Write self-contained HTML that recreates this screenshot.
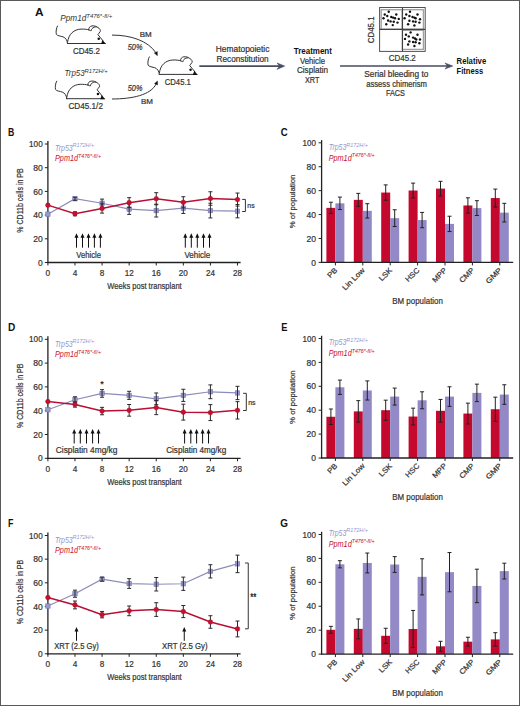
<!DOCTYPE html>
<html><head><meta charset="utf-8"><style>
html,body{margin:0;padding:0;background:#fff;}
svg{display:block;}
text{font-family:"Liberation Sans", sans-serif;}
</style></head><body>
<svg width="520" height="706" viewBox="0 0 520 706">
<rect x="0" y="0" width="520" height="706" fill="#fff"/>
<g transform="translate(0,0)" fill="none" stroke="#333" stroke-width="1.0" stroke-linecap="round" stroke-linejoin="round"><path d="M57.5,26 C56.2,28 55.8,32 56.3,34.2 C57,35.8 61,36.2 63,36.8 C65.5,37.8 67.3,40 67.5,43.5"/><path d="M67.5,43.5 L105.2,43.5"/><path d="M67.6,42 C68.5,34 74,29.4 81,29.1 C84,29 87,29.3 88.7,29.8"/><path d="M88.7,29.8 C88.6,27.6 90,26.2 92,25.9 C94.5,25.6 96.5,26.4 98,27.6 C99.8,28.6 100.8,30 100.2,31.6 C99.6,32.8 98.2,33.8 97.9,34.6 C99.5,36.8 101.5,38.6 103,40.8"/><path d="M88.7,29.8 C89.6,30.4 90.6,30.8 91.3,30.6 C91.2,29.2 92.5,27.8 94.2,27.2 C95,27 95.8,26.9 96.4,26.9"/></g><g transform="translate(0,0)" fill="#111" stroke="none"><circle cx="98.75" cy="38.8" r="1.25"/><path d="M102.5,39.9 L105.9,44.0 L101.0,44.0 Z"/></g>
<g transform="translate(-0.8,55.2)" fill="none" stroke="#333" stroke-width="1.0" stroke-linecap="round" stroke-linejoin="round"><path d="M57.5,26 C56.2,28 55.8,32 56.3,34.2 C57,35.8 61,36.2 63,36.8 C65.5,37.8 67.3,40 67.5,43.5"/><path d="M67.5,43.5 L105.2,43.5"/><path d="M67.6,42 C68.5,34 74,29.4 81,29.1 C84,29 87,29.3 88.7,29.8"/><path d="M88.7,29.8 C88.6,27.6 90,26.2 92,25.9 C94.5,25.6 96.5,26.4 98,27.6 C99.8,28.6 100.8,30 100.2,31.6 C99.6,32.8 98.2,33.8 97.9,34.6 C99.5,36.8 101.5,38.6 103,40.8"/><path d="M88.7,29.8 C89.6,30.4 90.6,30.8 91.3,30.6 C91.2,29.2 92.5,27.8 94.2,27.2 C95,27 95.8,26.9 96.4,26.9"/></g><g transform="translate(-0.8,55.2)" fill="#111" stroke="none"><circle cx="98.75" cy="38.8" r="1.25"/><path d="M102.5,39.9 L105.9,44.0 L101.0,44.0 Z"/></g>
<g transform="translate(91.8,30.9)" fill="none" stroke="#333" stroke-width="1.0" stroke-linecap="round" stroke-linejoin="round"><path d="M57.5,26 C56.2,28 55.8,32 56.3,34.2 C57,35.8 61,36.2 63,36.8 C65.5,37.8 67.3,40 67.5,43.5"/><path d="M67.5,43.5 L105.2,43.5"/><path d="M67.6,42 C68.5,34 74,29.4 81,29.1 C84,29 87,29.3 88.7,29.8"/><path d="M88.7,29.8 C88.6,27.6 90,26.2 92,25.9 C94.5,25.6 96.5,26.4 98,27.6 C99.8,28.6 100.8,30 100.2,31.6 C99.6,32.8 98.2,33.8 97.9,34.6 C99.5,36.8 101.5,38.6 103,40.8"/><path d="M88.7,29.8 C89.6,30.4 90.6,30.8 91.3,30.6 C91.2,29.2 92.5,27.8 94.2,27.2 C95,27 95.8,26.9 96.4,26.9"/></g><g transform="translate(91.8,30.9)" fill="#111" stroke="none"><circle cx="98.75" cy="38.8" r="1.25"/><path d="M102.5,39.9 L105.9,44.0 L101.0,44.0 Z"/></g>
<text x="35.00" y="16.40" font-size="10" text-anchor="start" fill="#111" stroke="#111" stroke-width="0.0" font-weight="bold" font-style="normal" textLength="8.6" lengthAdjust="spacingAndGlyphs" >A</text>
<text x="60.3" y="21.1" font-size="8.2" font-style="italic" fill="#333"><tspan textLength="26" lengthAdjust="spacingAndGlyphs">Ppm1d</tspan><tspan font-size="5.2" dy="-3.6" textLength="26" lengthAdjust="spacingAndGlyphs">T476*-fl/+</tspan></text>
<text x="64.6" y="76.4" font-size="8.2" font-style="italic" fill="#333"><tspan textLength="20" lengthAdjust="spacingAndGlyphs">Trp53</tspan><tspan font-size="5.2" dy="-3.6" textLength="23" lengthAdjust="spacingAndGlyphs">R172H/+</tspan></text>
<text x="86.40" y="53.60" font-size="8.8" text-anchor="middle" fill="#333" stroke="#333" stroke-width="0.22" font-weight="normal" font-style="normal" textLength="27" lengthAdjust="spacingAndGlyphs" >CD45.2</text>
<text x="85.70" y="108.60" font-size="8.8" text-anchor="middle" fill="#333" stroke="#333" stroke-width="0.22" font-weight="normal" font-style="normal" textLength="34.5" lengthAdjust="spacingAndGlyphs" >CD45.1/2</text>
<text x="177.80" y="84.80" font-size="8.8" text-anchor="middle" fill="#333" stroke="#333" stroke-width="0.22" font-weight="normal" font-style="normal" textLength="26" lengthAdjust="spacingAndGlyphs" >CD45.1</text>
<path d="M112,35.1 C131,35 148,41 155.8,52.6" fill="none" stroke="#333" stroke-width="1"/>
<path d="M157.4,55.7 L154.3,53.1 L157.3,51.6 Z" fill="#111" stroke="#111" stroke-width="0.4" stroke-linejoin="round"/>
<path d="M112,99 C132,99 151,95 156.2,83.8" fill="none" stroke="#333" stroke-width="1"/>
<path d="M157.5,81.0 L157.6,84.9 L154.5,83.5 Z" fill="#111" stroke="#111" stroke-width="0.4" stroke-linejoin="round"/>
<text x="145.70" y="37.10" font-size="7.8" text-anchor="middle" fill="#333" stroke="#333" stroke-width="0.22" font-weight="normal" font-style="normal" textLength="12" lengthAdjust="spacingAndGlyphs" >BM</text>
<text x="135.10" y="49.50" font-size="8.7" text-anchor="middle" fill="#333" stroke="#333" stroke-width="0.22" font-weight="normal" font-style="italic" textLength="14.6" lengthAdjust="spacingAndGlyphs" >50%</text>
<text x="135.10" y="90.80" font-size="8.7" text-anchor="middle" fill="#333" stroke="#333" stroke-width="0.22" font-weight="normal" font-style="italic" textLength="14.6" lengthAdjust="spacingAndGlyphs" >50%</text>
<text x="146.90" y="103.70" font-size="7.8" text-anchor="middle" fill="#333" stroke="#333" stroke-width="0.22" font-weight="normal" font-style="normal" textLength="12" lengthAdjust="spacingAndGlyphs" >BM</text>
<line x1="199.30" y1="66.10" x2="281.00" y2="66.10" stroke="#454d60" stroke-width="1.6" />
<path d="M284.8,66.1 L277.0,62.9 L279.4,66.1 L277.0,69.4 Z" fill="#454d60" stroke="#454d60" stroke-width="0.5" stroke-linejoin="round"/>
<text x="242.60" y="52.40" font-size="8.7" text-anchor="middle" fill="#333" stroke="#333" stroke-width="0.22" font-weight="normal" font-style="normal" textLength="53.6" lengthAdjust="spacingAndGlyphs" >Hematopoietic</text>
<text x="242.60" y="61.80" font-size="8.7" text-anchor="middle" fill="#333" stroke="#333" stroke-width="0.22" font-weight="normal" font-style="normal" textLength="52" lengthAdjust="spacingAndGlyphs" >Reconstitution</text>
<text x="312.80" y="54.40" font-size="8.7" text-anchor="middle" fill="#111" stroke="#111" stroke-width="0.0" font-weight="bold" font-style="normal" textLength="38.2" lengthAdjust="spacingAndGlyphs" >Treatment</text>
<text x="312.50" y="64.00" font-size="8.7" text-anchor="middle" fill="#333" stroke="#333" stroke-width="0.22" font-weight="normal" font-style="normal" textLength="25" lengthAdjust="spacingAndGlyphs" >Vehicle</text>
<text x="312.50" y="73.10" font-size="8.7" text-anchor="middle" fill="#333" stroke="#333" stroke-width="0.22" font-weight="normal" font-style="normal" textLength="31.2" lengthAdjust="spacingAndGlyphs" >Cisplatin</text>
<text x="312.20" y="83.10" font-size="8.7" text-anchor="middle" fill="#333" stroke="#333" stroke-width="0.22" font-weight="normal" font-style="normal" textLength="14.4" lengthAdjust="spacingAndGlyphs" >XRT</text>
<line x1="340.00" y1="66.00" x2="449.00" y2="66.00" stroke="#454d60" stroke-width="1.6" />
<path d="M452.9,66.0 L444.9,62.9 L447.4,66.0 L444.9,69.1 Z" fill="#454d60" stroke="#454d60" stroke-width="0.5" stroke-linejoin="round"/>
<text x="396.30" y="76.50" font-size="8.7" text-anchor="middle" fill="#333" stroke="#333" stroke-width="0.22" font-weight="normal" font-style="normal" textLength="64" lengthAdjust="spacingAndGlyphs" >Serial bleeding to</text>
<text x="396.60" y="87.10" font-size="8.7" text-anchor="middle" fill="#333" stroke="#333" stroke-width="0.22" font-weight="normal" font-style="normal" textLength="60.8" lengthAdjust="spacingAndGlyphs" >assess chimerism</text>
<text x="395.40" y="96.00" font-size="8.9" text-anchor="middle" fill="#333" stroke="#333" stroke-width="0.22" font-weight="normal" font-style="normal" textLength="19" lengthAdjust="spacingAndGlyphs" >FACS</text>
<text x="456.60" y="63.80" font-size="8.7" text-anchor="start" fill="#111" stroke="#111" stroke-width="0.0" font-weight="bold" font-style="normal" textLength="29.6" lengthAdjust="spacingAndGlyphs" >Relative</text>
<text x="456.60" y="73.50" font-size="8.7" text-anchor="start" fill="#111" stroke="#111" stroke-width="0.0" font-weight="bold" font-style="normal" textLength="26.5" lengthAdjust="spacingAndGlyphs" >Fitness</text>
<rect x="381.2" y="9.7" width="21.1" height="19.6" fill="none" stroke="#a0a0a0" stroke-width="1.3"/>
<rect x="402.3" y="9.7" width="21.1" height="19.6" fill="none" stroke="#a0a0a0" stroke-width="1.3"/>
<rect x="402.3" y="30.3" width="21.1" height="19.1" fill="none" stroke="#a0a0a0" stroke-width="1.3"/>
<rect x="379.6" y="7.5" width="45.6" height="43.9" fill="none" stroke="#505050" stroke-width="1"/>
<line x1="402.50" y1="7.50" x2="402.50" y2="51.40" stroke="#404040" stroke-width="1.1" />
<line x1="379.60" y1="29.40" x2="425.20" y2="29.40" stroke="#404040" stroke-width="1.1" />
<g fill="#111"><circle cx="388.75" cy="11.75" r="1.2"/><circle cx="384.75" cy="14.5" r="1.2"/><circle cx="387.25" cy="16" r="1.2"/><circle cx="396.25" cy="14.5" r="1.2"/><circle cx="383.5" cy="18.25" r="1.2"/><circle cx="391.25" cy="17" r="1.2"/><circle cx="393.1" cy="17.6" r="1.2"/><circle cx="395" cy="18.25" r="1.2"/><circle cx="398.75" cy="18.9" r="1.2"/><circle cx="388.1" cy="20.5" r="1.2"/><circle cx="390.6" cy="21.4" r="1.2"/><circle cx="393.75" cy="21.75" r="1.2"/><circle cx="397.5" cy="22.6" r="1.2"/><circle cx="386.25" cy="24.25" r="1.2"/><circle cx="392.75" cy="25.1" r="1.2"/><circle cx="410" cy="11.75" r="1.2"/><circle cx="406.25" cy="14.5" r="1.2"/><circle cx="409.4" cy="16" r="1.2"/><circle cx="417.5" cy="14.5" r="1.2"/><circle cx="404.6" cy="18.25" r="1.2"/><circle cx="412.5" cy="17" r="1.2"/><circle cx="414.4" cy="17.6" r="1.2"/><circle cx="415.6" cy="18.25" r="1.2"/><circle cx="420" cy="19.25" r="1.2"/><circle cx="409.4" cy="20.75" r="1.2"/><circle cx="413.1" cy="21.4" r="1.2"/><circle cx="415.6" cy="21.75" r="1.2"/><circle cx="419.4" cy="22.6" r="1.2"/><circle cx="408.1" cy="24.25" r="1.2"/><circle cx="414.4" cy="25.5" r="1.2"/><circle cx="410.6" cy="32.4" r="1.2"/><circle cx="406" cy="34.75" r="1.2"/><circle cx="408.75" cy="36.4" r="1.2"/><circle cx="417.5" cy="34.75" r="1.2"/><circle cx="405" cy="38.9" r="1.2"/><circle cx="413.1" cy="37.6" r="1.2"/><circle cx="415" cy="38.5" r="1.2"/><circle cx="416.25" cy="39.5" r="1.2"/><circle cx="420" cy="39.5" r="1.2"/><circle cx="409.4" cy="41.4" r="1.2"/><circle cx="413.1" cy="42" r="1.2"/><circle cx="415.6" cy="42.25" r="1.2"/><circle cx="419.4" cy="43.25" r="1.2"/><circle cx="408.1" cy="44.5" r="1.2"/><circle cx="414.4" cy="46" r="1.2"/></g>
<text x="374.40" y="29.80" font-size="8.7" text-anchor="middle" fill="#333" stroke="#333" stroke-width="0.22" font-weight="normal" font-style="normal" textLength="26.8" lengthAdjust="spacingAndGlyphs" transform="rotate(-90 374.4 29.8)">CD45.1</text>
<text x="402.30" y="61.20" font-size="8.7" text-anchor="middle" fill="#333" stroke="#333" stroke-width="0.22" font-weight="normal" font-style="normal" textLength="27" lengthAdjust="spacingAndGlyphs" >CD45.2</text>
<text x="7.90" y="135.50" font-size="10" text-anchor="start" fill="#111" stroke="#111" stroke-width="0.0" font-weight="bold" font-style="normal" textLength="6.3" lengthAdjust="spacingAndGlyphs" >B</text>
<line x1="47.90" y1="141.00" x2="47.90" y2="263.10" stroke="#222" stroke-width="1.3" />
<line x1="47.30" y1="262.50" x2="240.60" y2="262.50" stroke="#222" stroke-width="1.3" />
<line x1="44.80" y1="262.50" x2="47.90" y2="262.50" stroke="#222" stroke-width="1" />
<text x="42.70" y="265.60" font-size="8.8" text-anchor="end" fill="#333" stroke="#333" stroke-width="0.22" font-weight="normal" font-style="normal" textLength="4.7" lengthAdjust="spacingAndGlyphs" >0</text>
<line x1="44.80" y1="238.80" x2="47.90" y2="238.80" stroke="#222" stroke-width="1" />
<text x="42.70" y="241.90" font-size="8.8" text-anchor="end" fill="#333" stroke="#333" stroke-width="0.22" font-weight="normal" font-style="normal" textLength="9.5" lengthAdjust="spacingAndGlyphs" >20</text>
<line x1="44.80" y1="215.10" x2="47.90" y2="215.10" stroke="#222" stroke-width="1" />
<text x="42.70" y="218.20" font-size="8.8" text-anchor="end" fill="#333" stroke="#333" stroke-width="0.22" font-weight="normal" font-style="normal" textLength="9.5" lengthAdjust="spacingAndGlyphs" >40</text>
<line x1="44.80" y1="191.40" x2="47.90" y2="191.40" stroke="#222" stroke-width="1" />
<text x="42.70" y="194.50" font-size="8.8" text-anchor="end" fill="#333" stroke="#333" stroke-width="0.22" font-weight="normal" font-style="normal" textLength="9.5" lengthAdjust="spacingAndGlyphs" >60</text>
<line x1="44.80" y1="167.70" x2="47.90" y2="167.70" stroke="#222" stroke-width="1" />
<text x="42.70" y="170.80" font-size="8.8" text-anchor="end" fill="#333" stroke="#333" stroke-width="0.22" font-weight="normal" font-style="normal" textLength="9.5" lengthAdjust="spacingAndGlyphs" >80</text>
<line x1="44.80" y1="144.00" x2="47.90" y2="144.00" stroke="#222" stroke-width="1" />
<text x="42.70" y="147.10" font-size="8.8" text-anchor="end" fill="#333" stroke="#333" stroke-width="0.22" font-weight="normal" font-style="normal" textLength="13.6" lengthAdjust="spacingAndGlyphs" >100</text>
<line x1="47.90" y1="262.50" x2="47.90" y2="265.50" stroke="#222" stroke-width="1" />
<text x="47.90" y="275.80" font-size="8.7" text-anchor="middle" fill="#333" stroke="#333" stroke-width="0.22" font-weight="normal" font-style="normal" textLength="4.6" lengthAdjust="spacingAndGlyphs" >0</text>
<line x1="74.98" y1="262.50" x2="74.98" y2="265.50" stroke="#222" stroke-width="1" />
<text x="74.98" y="275.80" font-size="8.7" text-anchor="middle" fill="#333" stroke="#333" stroke-width="0.22" font-weight="normal" font-style="normal" textLength="4.6" lengthAdjust="spacingAndGlyphs" >4</text>
<line x1="102.07" y1="262.50" x2="102.07" y2="265.50" stroke="#222" stroke-width="1" />
<text x="102.07" y="275.80" font-size="8.7" text-anchor="middle" fill="#333" stroke="#333" stroke-width="0.22" font-weight="normal" font-style="normal" textLength="4.6" lengthAdjust="spacingAndGlyphs" >8</text>
<line x1="129.15" y1="262.50" x2="129.15" y2="265.50" stroke="#222" stroke-width="1" />
<text x="129.15" y="275.80" font-size="8.7" text-anchor="middle" fill="#333" stroke="#333" stroke-width="0.22" font-weight="normal" font-style="normal" textLength="9.0" lengthAdjust="spacingAndGlyphs" >12</text>
<line x1="156.24" y1="262.50" x2="156.24" y2="265.50" stroke="#222" stroke-width="1" />
<text x="156.24" y="275.80" font-size="8.7" text-anchor="middle" fill="#333" stroke="#333" stroke-width="0.22" font-weight="normal" font-style="normal" textLength="9.0" lengthAdjust="spacingAndGlyphs" >16</text>
<line x1="183.32" y1="262.50" x2="183.32" y2="265.50" stroke="#222" stroke-width="1" />
<text x="183.32" y="275.80" font-size="8.7" text-anchor="middle" fill="#333" stroke="#333" stroke-width="0.22" font-weight="normal" font-style="normal" textLength="9.0" lengthAdjust="spacingAndGlyphs" >20</text>
<line x1="210.40" y1="262.50" x2="210.40" y2="265.50" stroke="#222" stroke-width="1" />
<text x="210.40" y="275.80" font-size="8.7" text-anchor="middle" fill="#333" stroke="#333" stroke-width="0.22" font-weight="normal" font-style="normal" textLength="9.0" lengthAdjust="spacingAndGlyphs" >24</text>
<line x1="237.49" y1="262.50" x2="237.49" y2="265.50" stroke="#222" stroke-width="1" />
<text x="237.49" y="275.80" font-size="8.7" text-anchor="middle" fill="#333" stroke="#333" stroke-width="0.22" font-weight="normal" font-style="normal" textLength="9.0" lengthAdjust="spacingAndGlyphs" >28</text>
<text x="144.50" y="288.70" font-size="9.4" text-anchor="middle" fill="#333" stroke="#333" stroke-width="0.22" font-weight="normal" font-style="normal" textLength="74.4" lengthAdjust="spacingAndGlyphs" >Weeks post transplant</text>
<text x="22.70" y="200.50" font-size="8.9" text-anchor="middle" fill="#333" stroke="#333" stroke-width="0.22" font-weight="normal" font-style="normal" textLength="64.5" lengthAdjust="spacingAndGlyphs" transform="rotate(-90 22.7 200.50)">% CD11b cells in PB</text>
<text x="55.0" y="150.9" font-size="8.3" font-style="italic" fill="#9696cc"><tspan textLength="17.6" lengthAdjust="spacingAndGlyphs">Trp53</tspan><tspan font-size="5.6" dy="-3.5" textLength="21.5" lengthAdjust="spacingAndGlyphs">R172H/+</tspan></text>
<text x="55.0" y="160.9" font-size="8.3" font-style="italic" fill="#c8102e"><tspan textLength="23" lengthAdjust="spacingAndGlyphs">Ppm1d</tspan><tspan font-size="5.6" dy="-3.4" textLength="23" lengthAdjust="spacingAndGlyphs">T476*-fl/+</tspan></text>
<line x1="76.50" y1="236.20" x2="76.50" y2="247.70" stroke="#111" stroke-width="1" />
<path d="M74.50,237.80 L76.50,233.20 L78.50,237.80 Z" fill="#111"/>
<line x1="82.50" y1="236.20" x2="82.50" y2="247.70" stroke="#111" stroke-width="1" />
<path d="M80.50,237.80 L82.50,233.20 L84.50,237.80 Z" fill="#111"/>
<line x1="88.50" y1="236.20" x2="88.50" y2="247.70" stroke="#111" stroke-width="1" />
<path d="M86.50,237.80 L88.50,233.20 L90.50,237.80 Z" fill="#111"/>
<line x1="94.40" y1="236.20" x2="94.40" y2="247.70" stroke="#111" stroke-width="1" />
<path d="M92.40,237.80 L94.40,233.20 L96.40,237.80 Z" fill="#111"/>
<line x1="100.40" y1="236.20" x2="100.40" y2="247.70" stroke="#111" stroke-width="1" />
<path d="M98.40,237.80 L100.40,233.20 L102.40,237.80 Z" fill="#111"/>
<text x="88.60" y="257.50" font-size="8.5" text-anchor="middle" fill="#333" stroke="#333" stroke-width="0.22" font-weight="normal" font-style="normal" textLength="24.799999999999997" lengthAdjust="spacingAndGlyphs" >Vehicle</text>
<line x1="185.30" y1="236.20" x2="185.30" y2="247.70" stroke="#111" stroke-width="1" />
<path d="M183.30,237.80 L185.30,233.20 L187.30,237.80 Z" fill="#111"/>
<line x1="191.30" y1="236.20" x2="191.30" y2="247.70" stroke="#111" stroke-width="1" />
<path d="M189.30,237.80 L191.30,233.20 L193.30,237.80 Z" fill="#111"/>
<line x1="197.30" y1="236.20" x2="197.30" y2="247.70" stroke="#111" stroke-width="1" />
<path d="M195.30,237.80 L197.30,233.20 L199.30,237.80 Z" fill="#111"/>
<line x1="203.50" y1="236.20" x2="203.50" y2="247.70" stroke="#111" stroke-width="1" />
<path d="M201.50,237.80 L203.50,233.20 L205.50,237.80 Z" fill="#111"/>
<line x1="209.50" y1="236.20" x2="209.50" y2="247.70" stroke="#111" stroke-width="1" />
<path d="M207.50,237.80 L209.50,233.20 L211.50,237.80 Z" fill="#111"/>
<text x="197.30" y="257.50" font-size="8.5" text-anchor="middle" fill="#333" stroke="#333" stroke-width="0.22" font-weight="normal" font-style="normal" textLength="25.799999999999983" lengthAdjust="spacingAndGlyphs" >Vehicle</text>
<path d="M242.20,199.40 L245.40,199.40 L245.40,211.50 L242.20,211.50" fill="none" stroke="#333" stroke-width="1"/>
<text x="247.30" y="208.15" font-size="7.6" text-anchor="start" fill="#333" stroke="#333" stroke-width="0.22" font-weight="normal" font-style="normal" textLength="7.3" lengthAdjust="spacingAndGlyphs" >ns</text>
<polyline points="47.90,214.15 74.98,198.75 102.07,203.25 129.15,209.06 156.24,210.60 183.32,208.11 210.40,210.60 237.49,211.19" fill="none" stroke="#8c8cb8" stroke-width="1.2"/>
<polyline points="47.90,205.15 74.98,213.80 102.07,208.46 129.15,202.66 156.24,198.75 183.32,202.30 210.40,198.51 237.49,199.58" fill="none" stroke="#b81034" stroke-width="1.5"/>
<rect x="45.70" y="211.95" width="4.4" height="4.4" fill="#9898cc" stroke="#7676b0" stroke-width="0.6"/>
<rect x="72.78" y="196.55" width="4.4" height="4.4" fill="#9898cc" stroke="#7676b0" stroke-width="0.6"/>
<rect x="99.87" y="201.05" width="4.4" height="4.4" fill="#9898cc" stroke="#7676b0" stroke-width="0.6"/>
<rect x="126.95" y="206.86" width="4.4" height="4.4" fill="#9898cc" stroke="#7676b0" stroke-width="0.6"/>
<rect x="154.04" y="208.40" width="4.4" height="4.4" fill="#9898cc" stroke="#7676b0" stroke-width="0.6"/>
<rect x="181.12" y="205.91" width="4.4" height="4.4" fill="#9898cc" stroke="#7676b0" stroke-width="0.6"/>
<rect x="208.20" y="208.40" width="4.4" height="4.4" fill="#9898cc" stroke="#7676b0" stroke-width="0.6"/>
<rect x="235.29" y="208.99" width="4.4" height="4.4" fill="#9898cc" stroke="#7676b0" stroke-width="0.6"/>
<line x1="74.98" y1="197.21" x2="74.98" y2="200.29" stroke="#2a2a2a" stroke-width="1.0" />
<line x1="72.98" y1="197.21" x2="76.98" y2="197.21" stroke="#2a2a2a" stroke-width="1.0" />
<line x1="72.98" y1="200.29" x2="76.98" y2="200.29" stroke="#2a2a2a" stroke-width="1.0" />
<line x1="102.07" y1="199.10" x2="102.07" y2="207.40" stroke="#2a2a2a" stroke-width="1.0" />
<line x1="100.07" y1="199.10" x2="104.07" y2="199.10" stroke="#2a2a2a" stroke-width="1.0" />
<line x1="100.07" y1="207.40" x2="104.07" y2="207.40" stroke="#2a2a2a" stroke-width="1.0" />
<line x1="129.15" y1="203.72" x2="129.15" y2="214.39" stroke="#2a2a2a" stroke-width="1.0" />
<line x1="127.15" y1="203.72" x2="131.15" y2="203.72" stroke="#2a2a2a" stroke-width="1.0" />
<line x1="127.15" y1="214.39" x2="131.15" y2="214.39" stroke="#2a2a2a" stroke-width="1.0" />
<line x1="156.24" y1="204.20" x2="156.24" y2="217.00" stroke="#2a2a2a" stroke-width="1.0" />
<line x1="154.24" y1="204.20" x2="158.24" y2="204.20" stroke="#2a2a2a" stroke-width="1.0" />
<line x1="154.24" y1="217.00" x2="158.24" y2="217.00" stroke="#2a2a2a" stroke-width="1.0" />
<line x1="183.32" y1="202.78" x2="183.32" y2="213.44" stroke="#2a2a2a" stroke-width="1.0" />
<line x1="181.32" y1="202.78" x2="185.32" y2="202.78" stroke="#2a2a2a" stroke-width="1.0" />
<line x1="181.32" y1="213.44" x2="185.32" y2="213.44" stroke="#2a2a2a" stroke-width="1.0" />
<line x1="210.40" y1="203.25" x2="210.40" y2="217.94" stroke="#2a2a2a" stroke-width="1.0" />
<line x1="208.40" y1="203.25" x2="212.40" y2="203.25" stroke="#2a2a2a" stroke-width="1.0" />
<line x1="208.40" y1="217.94" x2="212.40" y2="217.94" stroke="#2a2a2a" stroke-width="1.0" />
<line x1="237.49" y1="204.55" x2="237.49" y2="217.83" stroke="#2a2a2a" stroke-width="1.0" />
<line x1="235.49" y1="204.55" x2="239.49" y2="204.55" stroke="#2a2a2a" stroke-width="1.0" />
<line x1="235.49" y1="217.83" x2="239.49" y2="217.83" stroke="#2a2a2a" stroke-width="1.0" />
<line x1="74.98" y1="211.78" x2="74.98" y2="215.81" stroke="#2a2a2a" stroke-width="1.0" />
<line x1="72.98" y1="211.78" x2="76.98" y2="211.78" stroke="#2a2a2a" stroke-width="1.0" />
<line x1="72.98" y1="215.81" x2="76.98" y2="215.81" stroke="#2a2a2a" stroke-width="1.0" />
<line x1="102.07" y1="203.84" x2="102.07" y2="213.09" stroke="#2a2a2a" stroke-width="1.0" />
<line x1="100.07" y1="203.84" x2="104.07" y2="203.84" stroke="#2a2a2a" stroke-width="1.0" />
<line x1="100.07" y1="213.09" x2="104.07" y2="213.09" stroke="#2a2a2a" stroke-width="1.0" />
<line x1="129.15" y1="197.68" x2="129.15" y2="207.63" stroke="#2a2a2a" stroke-width="1.0" />
<line x1="127.15" y1="197.68" x2="131.15" y2="197.68" stroke="#2a2a2a" stroke-width="1.0" />
<line x1="127.15" y1="207.63" x2="131.15" y2="207.63" stroke="#2a2a2a" stroke-width="1.0" />
<line x1="156.24" y1="192.70" x2="156.24" y2="204.79" stroke="#2a2a2a" stroke-width="1.0" />
<line x1="154.24" y1="192.70" x2="158.24" y2="192.70" stroke="#2a2a2a" stroke-width="1.0" />
<line x1="154.24" y1="204.79" x2="158.24" y2="204.79" stroke="#2a2a2a" stroke-width="1.0" />
<line x1="183.32" y1="196.73" x2="183.32" y2="207.87" stroke="#2a2a2a" stroke-width="1.0" />
<line x1="181.32" y1="196.73" x2="185.32" y2="196.73" stroke="#2a2a2a" stroke-width="1.0" />
<line x1="181.32" y1="207.87" x2="185.32" y2="207.87" stroke="#2a2a2a" stroke-width="1.0" />
<line x1="210.40" y1="191.76" x2="210.40" y2="205.26" stroke="#2a2a2a" stroke-width="1.0" />
<line x1="208.40" y1="191.76" x2="212.40" y2="191.76" stroke="#2a2a2a" stroke-width="1.0" />
<line x1="208.40" y1="205.26" x2="212.40" y2="205.26" stroke="#2a2a2a" stroke-width="1.0" />
<line x1="237.49" y1="193.06" x2="237.49" y2="206.09" stroke="#2a2a2a" stroke-width="1.0" />
<line x1="235.49" y1="193.06" x2="239.49" y2="193.06" stroke="#2a2a2a" stroke-width="1.0" />
<line x1="235.49" y1="206.09" x2="239.49" y2="206.09" stroke="#2a2a2a" stroke-width="1.0" />
<circle cx="47.90" cy="205.15" r="2.35" fill="#c8102e" stroke="#a00a25" stroke-width="0.4"/>
<circle cx="74.98" cy="213.80" r="2.35" fill="#c8102e" stroke="#a00a25" stroke-width="0.4"/>
<circle cx="102.07" cy="208.46" r="2.35" fill="#c8102e" stroke="#a00a25" stroke-width="0.4"/>
<circle cx="129.15" cy="202.66" r="2.35" fill="#c8102e" stroke="#a00a25" stroke-width="0.4"/>
<circle cx="156.24" cy="198.75" r="2.35" fill="#c8102e" stroke="#a00a25" stroke-width="0.4"/>
<circle cx="183.32" cy="202.30" r="2.35" fill="#c8102e" stroke="#a00a25" stroke-width="0.4"/>
<circle cx="210.40" cy="198.51" r="2.35" fill="#c8102e" stroke="#a00a25" stroke-width="0.4"/>
<circle cx="237.49" cy="199.58" r="2.35" fill="#c8102e" stroke="#a00a25" stroke-width="0.4"/>
<text x="7.90" y="330.80" font-size="10" text-anchor="start" fill="#111" stroke="#111" stroke-width="0.0" font-weight="bold" font-style="normal" textLength="7.3" lengthAdjust="spacingAndGlyphs" >D</text>
<line x1="47.90" y1="336.30" x2="47.90" y2="458.90" stroke="#222" stroke-width="1.3" />
<line x1="47.30" y1="458.30" x2="240.60" y2="458.30" stroke="#222" stroke-width="1.3" />
<line x1="44.80" y1="458.30" x2="47.90" y2="458.30" stroke="#222" stroke-width="1" />
<text x="42.70" y="461.40" font-size="8.8" text-anchor="end" fill="#333" stroke="#333" stroke-width="0.22" font-weight="normal" font-style="normal" textLength="4.7" lengthAdjust="spacingAndGlyphs" >0</text>
<line x1="44.80" y1="434.50" x2="47.90" y2="434.50" stroke="#222" stroke-width="1" />
<text x="42.70" y="437.60" font-size="8.8" text-anchor="end" fill="#333" stroke="#333" stroke-width="0.22" font-weight="normal" font-style="normal" textLength="9.5" lengthAdjust="spacingAndGlyphs" >20</text>
<line x1="44.80" y1="410.70" x2="47.90" y2="410.70" stroke="#222" stroke-width="1" />
<text x="42.70" y="413.80" font-size="8.8" text-anchor="end" fill="#333" stroke="#333" stroke-width="0.22" font-weight="normal" font-style="normal" textLength="9.5" lengthAdjust="spacingAndGlyphs" >40</text>
<line x1="44.80" y1="386.90" x2="47.90" y2="386.90" stroke="#222" stroke-width="1" />
<text x="42.70" y="390.00" font-size="8.8" text-anchor="end" fill="#333" stroke="#333" stroke-width="0.22" font-weight="normal" font-style="normal" textLength="9.5" lengthAdjust="spacingAndGlyphs" >60</text>
<line x1="44.80" y1="363.10" x2="47.90" y2="363.10" stroke="#222" stroke-width="1" />
<text x="42.70" y="366.20" font-size="8.8" text-anchor="end" fill="#333" stroke="#333" stroke-width="0.22" font-weight="normal" font-style="normal" textLength="9.5" lengthAdjust="spacingAndGlyphs" >80</text>
<line x1="44.80" y1="339.30" x2="47.90" y2="339.30" stroke="#222" stroke-width="1" />
<text x="42.70" y="342.40" font-size="8.8" text-anchor="end" fill="#333" stroke="#333" stroke-width="0.22" font-weight="normal" font-style="normal" textLength="13.6" lengthAdjust="spacingAndGlyphs" >100</text>
<line x1="47.90" y1="458.30" x2="47.90" y2="461.30" stroke="#222" stroke-width="1" />
<text x="47.90" y="471.60" font-size="8.7" text-anchor="middle" fill="#333" stroke="#333" stroke-width="0.22" font-weight="normal" font-style="normal" textLength="4.6" lengthAdjust="spacingAndGlyphs" >0</text>
<line x1="74.98" y1="458.30" x2="74.98" y2="461.30" stroke="#222" stroke-width="1" />
<text x="74.98" y="471.60" font-size="8.7" text-anchor="middle" fill="#333" stroke="#333" stroke-width="0.22" font-weight="normal" font-style="normal" textLength="4.6" lengthAdjust="spacingAndGlyphs" >4</text>
<line x1="102.07" y1="458.30" x2="102.07" y2="461.30" stroke="#222" stroke-width="1" />
<text x="102.07" y="471.60" font-size="8.7" text-anchor="middle" fill="#333" stroke="#333" stroke-width="0.22" font-weight="normal" font-style="normal" textLength="4.6" lengthAdjust="spacingAndGlyphs" >8</text>
<line x1="129.15" y1="458.30" x2="129.15" y2="461.30" stroke="#222" stroke-width="1" />
<text x="129.15" y="471.60" font-size="8.7" text-anchor="middle" fill="#333" stroke="#333" stroke-width="0.22" font-weight="normal" font-style="normal" textLength="9.0" lengthAdjust="spacingAndGlyphs" >12</text>
<line x1="156.24" y1="458.30" x2="156.24" y2="461.30" stroke="#222" stroke-width="1" />
<text x="156.24" y="471.60" font-size="8.7" text-anchor="middle" fill="#333" stroke="#333" stroke-width="0.22" font-weight="normal" font-style="normal" textLength="9.0" lengthAdjust="spacingAndGlyphs" >16</text>
<line x1="183.32" y1="458.30" x2="183.32" y2="461.30" stroke="#222" stroke-width="1" />
<text x="183.32" y="471.60" font-size="8.7" text-anchor="middle" fill="#333" stroke="#333" stroke-width="0.22" font-weight="normal" font-style="normal" textLength="9.0" lengthAdjust="spacingAndGlyphs" >20</text>
<line x1="210.40" y1="458.30" x2="210.40" y2="461.30" stroke="#222" stroke-width="1" />
<text x="210.40" y="471.60" font-size="8.7" text-anchor="middle" fill="#333" stroke="#333" stroke-width="0.22" font-weight="normal" font-style="normal" textLength="9.0" lengthAdjust="spacingAndGlyphs" >24</text>
<line x1="237.49" y1="458.30" x2="237.49" y2="461.30" stroke="#222" stroke-width="1" />
<text x="237.49" y="471.60" font-size="8.7" text-anchor="middle" fill="#333" stroke="#333" stroke-width="0.22" font-weight="normal" font-style="normal" textLength="9.0" lengthAdjust="spacingAndGlyphs" >28</text>
<text x="144.50" y="484.50" font-size="9.4" text-anchor="middle" fill="#333" stroke="#333" stroke-width="0.22" font-weight="normal" font-style="normal" textLength="74.4" lengthAdjust="spacingAndGlyphs" >Weeks post transplant</text>
<text x="22.70" y="395.80" font-size="8.9" text-anchor="middle" fill="#333" stroke="#333" stroke-width="0.22" font-weight="normal" font-style="normal" textLength="64.5" lengthAdjust="spacingAndGlyphs" transform="rotate(-90 22.7 395.80)">% CD11b cells in PB</text>
<text x="55.0" y="346.5" font-size="8.3" font-style="italic" fill="#9696cc"><tspan textLength="17.6" lengthAdjust="spacingAndGlyphs">Trp53</tspan><tspan font-size="5.6" dy="-3.5" textLength="21.5" lengthAdjust="spacingAndGlyphs">R172H/+</tspan></text>
<text x="55.0" y="357.4" font-size="8.3" font-style="italic" fill="#c8102e"><tspan textLength="23" lengthAdjust="spacingAndGlyphs">Ppm1d</tspan><tspan font-size="5.6" dy="-3.4" textLength="23" lengthAdjust="spacingAndGlyphs">T476*-fl/+</tspan></text>
<line x1="74.20" y1="432.00" x2="74.20" y2="443.50" stroke="#111" stroke-width="1" />
<path d="M72.20,433.60 L74.20,429.00 L76.20,433.60 Z" fill="#111"/>
<line x1="80.30" y1="432.00" x2="80.30" y2="443.50" stroke="#111" stroke-width="1" />
<path d="M78.30,433.60 L80.30,429.00 L82.30,433.60 Z" fill="#111"/>
<line x1="86.50" y1="432.00" x2="86.50" y2="443.50" stroke="#111" stroke-width="1" />
<path d="M84.50,433.60 L86.50,429.00 L88.50,433.60 Z" fill="#111"/>
<line x1="92.60" y1="432.00" x2="92.60" y2="443.50" stroke="#111" stroke-width="1" />
<path d="M90.60,433.60 L92.60,429.00 L94.60,433.60 Z" fill="#111"/>
<line x1="98.50" y1="432.00" x2="98.50" y2="443.50" stroke="#111" stroke-width="1" />
<path d="M96.50,433.60 L98.50,429.00 L100.50,433.60 Z" fill="#111"/>
<text x="86.60" y="453.30" font-size="8.5" text-anchor="middle" fill="#333" stroke="#333" stroke-width="0.22" font-weight="normal" font-style="normal" textLength="61.60000000000001" lengthAdjust="spacingAndGlyphs" >Cisplatin 4mg/kg</text>
<line x1="184.60" y1="432.00" x2="184.60" y2="443.50" stroke="#111" stroke-width="1" />
<path d="M182.60,433.60 L184.60,429.00 L186.60,433.60 Z" fill="#111"/>
<line x1="190.80" y1="432.00" x2="190.80" y2="443.50" stroke="#111" stroke-width="1" />
<path d="M188.80,433.60 L190.80,429.00 L192.80,433.60 Z" fill="#111"/>
<line x1="196.60" y1="432.00" x2="196.60" y2="443.50" stroke="#111" stroke-width="1" />
<path d="M194.60,433.60 L196.60,429.00 L198.60,433.60 Z" fill="#111"/>
<line x1="202.60" y1="432.00" x2="202.60" y2="443.50" stroke="#111" stroke-width="1" />
<path d="M200.60,433.60 L202.60,429.00 L204.60,433.60 Z" fill="#111"/>
<line x1="208.50" y1="432.00" x2="208.50" y2="443.50" stroke="#111" stroke-width="1" />
<path d="M206.50,433.60 L208.50,429.00 L210.50,433.60 Z" fill="#111"/>
<text x="196.20" y="453.30" font-size="8.5" text-anchor="middle" fill="#333" stroke="#333" stroke-width="0.22" font-weight="normal" font-style="normal" textLength="60.0" lengthAdjust="spacingAndGlyphs" >Cisplatin 4mg/kg</text>
<path d="M243.10,393.30 L246.30,393.30 L246.30,410.50 L243.10,410.50" fill="none" stroke="#333" stroke-width="1"/>
<text x="248.20" y="404.60" font-size="7.6" text-anchor="start" fill="#333" stroke="#333" stroke-width="0.22" font-weight="normal" font-style="normal" textLength="7.3" lengthAdjust="spacingAndGlyphs" >ns</text>
<polyline points="47.90,409.75 74.98,399.75 102.07,393.44 129.15,395.35 156.24,398.80 183.32,395.35 210.40,391.78 237.49,392.97" fill="none" stroke="#8c8cb8" stroke-width="1.2"/>
<polyline points="47.90,401.54 74.98,404.51 102.07,411.06 129.15,410.34 156.24,407.61 183.32,412.13 210.40,412.60 237.49,410.34" fill="none" stroke="#b81034" stroke-width="1.5"/>
<rect x="45.70" y="407.55" width="4.4" height="4.4" fill="#9898cc" stroke="#7676b0" stroke-width="0.6"/>
<rect x="72.78" y="397.55" width="4.4" height="4.4" fill="#9898cc" stroke="#7676b0" stroke-width="0.6"/>
<rect x="99.87" y="391.25" width="4.4" height="4.4" fill="#9898cc" stroke="#7676b0" stroke-width="0.6"/>
<rect x="126.95" y="393.15" width="4.4" height="4.4" fill="#9898cc" stroke="#7676b0" stroke-width="0.6"/>
<rect x="154.04" y="396.60" width="4.4" height="4.4" fill="#9898cc" stroke="#7676b0" stroke-width="0.6"/>
<rect x="181.12" y="393.15" width="4.4" height="4.4" fill="#9898cc" stroke="#7676b0" stroke-width="0.6"/>
<rect x="208.20" y="389.58" width="4.4" height="4.4" fill="#9898cc" stroke="#7676b0" stroke-width="0.6"/>
<rect x="235.29" y="390.77" width="4.4" height="4.4" fill="#9898cc" stroke="#7676b0" stroke-width="0.6"/>
<line x1="74.98" y1="396.78" x2="74.98" y2="402.73" stroke="#2a2a2a" stroke-width="1.0" />
<line x1="72.98" y1="396.78" x2="76.98" y2="396.78" stroke="#2a2a2a" stroke-width="1.0" />
<line x1="72.98" y1="402.73" x2="76.98" y2="402.73" stroke="#2a2a2a" stroke-width="1.0" />
<line x1="102.07" y1="389.64" x2="102.07" y2="397.25" stroke="#2a2a2a" stroke-width="1.0" />
<line x1="100.07" y1="389.64" x2="104.07" y2="389.64" stroke="#2a2a2a" stroke-width="1.0" />
<line x1="100.07" y1="397.25" x2="104.07" y2="397.25" stroke="#2a2a2a" stroke-width="1.0" />
<line x1="129.15" y1="391.30" x2="129.15" y2="399.40" stroke="#2a2a2a" stroke-width="1.0" />
<line x1="127.15" y1="391.30" x2="131.15" y2="391.30" stroke="#2a2a2a" stroke-width="1.0" />
<line x1="127.15" y1="399.40" x2="131.15" y2="399.40" stroke="#2a2a2a" stroke-width="1.0" />
<line x1="156.24" y1="392.97" x2="156.24" y2="404.63" stroke="#2a2a2a" stroke-width="1.0" />
<line x1="154.24" y1="392.97" x2="158.24" y2="392.97" stroke="#2a2a2a" stroke-width="1.0" />
<line x1="154.24" y1="404.63" x2="158.24" y2="404.63" stroke="#2a2a2a" stroke-width="1.0" />
<line x1="183.32" y1="389.28" x2="183.32" y2="401.42" stroke="#2a2a2a" stroke-width="1.0" />
<line x1="181.32" y1="389.28" x2="185.32" y2="389.28" stroke="#2a2a2a" stroke-width="1.0" />
<line x1="181.32" y1="401.42" x2="185.32" y2="401.42" stroke="#2a2a2a" stroke-width="1.0" />
<line x1="210.40" y1="384.88" x2="210.40" y2="398.68" stroke="#2a2a2a" stroke-width="1.0" />
<line x1="208.40" y1="384.88" x2="212.40" y2="384.88" stroke="#2a2a2a" stroke-width="1.0" />
<line x1="208.40" y1="398.68" x2="212.40" y2="398.68" stroke="#2a2a2a" stroke-width="1.0" />
<line x1="237.49" y1="386.31" x2="237.49" y2="399.63" stroke="#2a2a2a" stroke-width="1.0" />
<line x1="235.49" y1="386.31" x2="239.49" y2="386.31" stroke="#2a2a2a" stroke-width="1.0" />
<line x1="235.49" y1="399.63" x2="239.49" y2="399.63" stroke="#2a2a2a" stroke-width="1.0" />
<line x1="74.98" y1="401.89" x2="74.98" y2="407.13" stroke="#2a2a2a" stroke-width="1.0" />
<line x1="72.98" y1="401.89" x2="76.98" y2="401.89" stroke="#2a2a2a" stroke-width="1.0" />
<line x1="72.98" y1="407.13" x2="76.98" y2="407.13" stroke="#2a2a2a" stroke-width="1.0" />
<line x1="102.07" y1="407.37" x2="102.07" y2="414.75" stroke="#2a2a2a" stroke-width="1.0" />
<line x1="100.07" y1="407.37" x2="104.07" y2="407.37" stroke="#2a2a2a" stroke-width="1.0" />
<line x1="100.07" y1="414.75" x2="104.07" y2="414.75" stroke="#2a2a2a" stroke-width="1.0" />
<line x1="129.15" y1="404.51" x2="129.15" y2="416.17" stroke="#2a2a2a" stroke-width="1.0" />
<line x1="127.15" y1="404.51" x2="131.15" y2="404.51" stroke="#2a2a2a" stroke-width="1.0" />
<line x1="127.15" y1="416.17" x2="131.15" y2="416.17" stroke="#2a2a2a" stroke-width="1.0" />
<line x1="156.24" y1="400.58" x2="156.24" y2="414.63" stroke="#2a2a2a" stroke-width="1.0" />
<line x1="154.24" y1="400.58" x2="158.24" y2="400.58" stroke="#2a2a2a" stroke-width="1.0" />
<line x1="154.24" y1="414.63" x2="158.24" y2="414.63" stroke="#2a2a2a" stroke-width="1.0" />
<line x1="183.32" y1="404.16" x2="183.32" y2="420.10" stroke="#2a2a2a" stroke-width="1.0" />
<line x1="181.32" y1="404.16" x2="185.32" y2="404.16" stroke="#2a2a2a" stroke-width="1.0" />
<line x1="181.32" y1="420.10" x2="185.32" y2="420.10" stroke="#2a2a2a" stroke-width="1.0" />
<line x1="210.40" y1="404.63" x2="210.40" y2="420.58" stroke="#2a2a2a" stroke-width="1.0" />
<line x1="208.40" y1="404.63" x2="212.40" y2="404.63" stroke="#2a2a2a" stroke-width="1.0" />
<line x1="208.40" y1="420.58" x2="212.40" y2="420.58" stroke="#2a2a2a" stroke-width="1.0" />
<line x1="237.49" y1="401.66" x2="237.49" y2="419.03" stroke="#2a2a2a" stroke-width="1.0" />
<line x1="235.49" y1="401.66" x2="239.49" y2="401.66" stroke="#2a2a2a" stroke-width="1.0" />
<line x1="235.49" y1="419.03" x2="239.49" y2="419.03" stroke="#2a2a2a" stroke-width="1.0" />
<circle cx="47.90" cy="401.54" r="2.35" fill="#c8102e" stroke="#a00a25" stroke-width="0.4"/>
<circle cx="74.98" cy="404.51" r="2.35" fill="#c8102e" stroke="#a00a25" stroke-width="0.4"/>
<circle cx="102.07" cy="411.06" r="2.35" fill="#c8102e" stroke="#a00a25" stroke-width="0.4"/>
<circle cx="129.15" cy="410.34" r="2.35" fill="#c8102e" stroke="#a00a25" stroke-width="0.4"/>
<circle cx="156.24" cy="407.61" r="2.35" fill="#c8102e" stroke="#a00a25" stroke-width="0.4"/>
<circle cx="183.32" cy="412.13" r="2.35" fill="#c8102e" stroke="#a00a25" stroke-width="0.4"/>
<circle cx="210.40" cy="412.60" r="2.35" fill="#c8102e" stroke="#a00a25" stroke-width="0.4"/>
<circle cx="237.49" cy="410.34" r="2.35" fill="#c8102e" stroke="#a00a25" stroke-width="0.4"/>
<text x="102.07" y="387.30" font-size="9" text-anchor="middle" fill="#333" stroke="#333" stroke-width="0.0" font-weight="bold" font-style="normal" >*</text>
<text x="7.90" y="527.00" font-size="10" text-anchor="start" fill="#111" stroke="#111" stroke-width="0.0" font-weight="bold" font-style="normal" textLength="5.4" lengthAdjust="spacingAndGlyphs" >F</text>
<line x1="47.90" y1="532.50" x2="47.90" y2="654.40" stroke="#222" stroke-width="1.3" />
<line x1="47.30" y1="653.80" x2="240.60" y2="653.80" stroke="#222" stroke-width="1.3" />
<line x1="44.80" y1="653.80" x2="47.90" y2="653.80" stroke="#222" stroke-width="1" />
<text x="42.70" y="656.90" font-size="8.8" text-anchor="end" fill="#333" stroke="#333" stroke-width="0.22" font-weight="normal" font-style="normal" textLength="4.7" lengthAdjust="spacingAndGlyphs" >0</text>
<line x1="44.80" y1="630.14" x2="47.90" y2="630.14" stroke="#222" stroke-width="1" />
<text x="42.70" y="633.24" font-size="8.8" text-anchor="end" fill="#333" stroke="#333" stroke-width="0.22" font-weight="normal" font-style="normal" textLength="9.5" lengthAdjust="spacingAndGlyphs" >20</text>
<line x1="44.80" y1="606.48" x2="47.90" y2="606.48" stroke="#222" stroke-width="1" />
<text x="42.70" y="609.58" font-size="8.8" text-anchor="end" fill="#333" stroke="#333" stroke-width="0.22" font-weight="normal" font-style="normal" textLength="9.5" lengthAdjust="spacingAndGlyphs" >40</text>
<line x1="44.80" y1="582.82" x2="47.90" y2="582.82" stroke="#222" stroke-width="1" />
<text x="42.70" y="585.92" font-size="8.8" text-anchor="end" fill="#333" stroke="#333" stroke-width="0.22" font-weight="normal" font-style="normal" textLength="9.5" lengthAdjust="spacingAndGlyphs" >60</text>
<line x1="44.80" y1="559.16" x2="47.90" y2="559.16" stroke="#222" stroke-width="1" />
<text x="42.70" y="562.26" font-size="8.8" text-anchor="end" fill="#333" stroke="#333" stroke-width="0.22" font-weight="normal" font-style="normal" textLength="9.5" lengthAdjust="spacingAndGlyphs" >80</text>
<line x1="44.80" y1="535.50" x2="47.90" y2="535.50" stroke="#222" stroke-width="1" />
<text x="42.70" y="538.60" font-size="8.8" text-anchor="end" fill="#333" stroke="#333" stroke-width="0.22" font-weight="normal" font-style="normal" textLength="13.6" lengthAdjust="spacingAndGlyphs" >100</text>
<line x1="47.90" y1="653.80" x2="47.90" y2="656.80" stroke="#222" stroke-width="1" />
<text x="47.90" y="667.10" font-size="8.7" text-anchor="middle" fill="#333" stroke="#333" stroke-width="0.22" font-weight="normal" font-style="normal" textLength="4.6" lengthAdjust="spacingAndGlyphs" >0</text>
<line x1="74.98" y1="653.80" x2="74.98" y2="656.80" stroke="#222" stroke-width="1" />
<text x="74.98" y="667.10" font-size="8.7" text-anchor="middle" fill="#333" stroke="#333" stroke-width="0.22" font-weight="normal" font-style="normal" textLength="4.6" lengthAdjust="spacingAndGlyphs" >4</text>
<line x1="102.07" y1="653.80" x2="102.07" y2="656.80" stroke="#222" stroke-width="1" />
<text x="102.07" y="667.10" font-size="8.7" text-anchor="middle" fill="#333" stroke="#333" stroke-width="0.22" font-weight="normal" font-style="normal" textLength="4.6" lengthAdjust="spacingAndGlyphs" >8</text>
<line x1="129.15" y1="653.80" x2="129.15" y2="656.80" stroke="#222" stroke-width="1" />
<text x="129.15" y="667.10" font-size="8.7" text-anchor="middle" fill="#333" stroke="#333" stroke-width="0.22" font-weight="normal" font-style="normal" textLength="9.0" lengthAdjust="spacingAndGlyphs" >12</text>
<line x1="156.24" y1="653.80" x2="156.24" y2="656.80" stroke="#222" stroke-width="1" />
<text x="156.24" y="667.10" font-size="8.7" text-anchor="middle" fill="#333" stroke="#333" stroke-width="0.22" font-weight="normal" font-style="normal" textLength="9.0" lengthAdjust="spacingAndGlyphs" >16</text>
<line x1="183.32" y1="653.80" x2="183.32" y2="656.80" stroke="#222" stroke-width="1" />
<text x="183.32" y="667.10" font-size="8.7" text-anchor="middle" fill="#333" stroke="#333" stroke-width="0.22" font-weight="normal" font-style="normal" textLength="9.0" lengthAdjust="spacingAndGlyphs" >20</text>
<line x1="210.40" y1="653.80" x2="210.40" y2="656.80" stroke="#222" stroke-width="1" />
<text x="210.40" y="667.10" font-size="8.7" text-anchor="middle" fill="#333" stroke="#333" stroke-width="0.22" font-weight="normal" font-style="normal" textLength="9.0" lengthAdjust="spacingAndGlyphs" >24</text>
<line x1="237.49" y1="653.80" x2="237.49" y2="656.80" stroke="#222" stroke-width="1" />
<text x="237.49" y="667.10" font-size="8.7" text-anchor="middle" fill="#333" stroke="#333" stroke-width="0.22" font-weight="normal" font-style="normal" textLength="9.0" lengthAdjust="spacingAndGlyphs" >28</text>
<text x="144.50" y="680.00" font-size="9.4" text-anchor="middle" fill="#333" stroke="#333" stroke-width="0.22" font-weight="normal" font-style="normal" textLength="74.4" lengthAdjust="spacingAndGlyphs" >Weeks post transplant</text>
<text x="22.70" y="592.00" font-size="8.9" text-anchor="middle" fill="#333" stroke="#333" stroke-width="0.22" font-weight="normal" font-style="normal" textLength="64.5" lengthAdjust="spacingAndGlyphs" transform="rotate(-90 22.7 592.00)">% CD11b cells in PB</text>
<text x="55.0" y="542.5" font-size="8.3" font-style="italic" fill="#9696cc"><tspan textLength="17.6" lengthAdjust="spacingAndGlyphs">Trp53</tspan><tspan font-size="5.6" dy="-3.5" textLength="21.5" lengthAdjust="spacingAndGlyphs">R172H/+</tspan></text>
<text x="55.0" y="553.4" font-size="8.3" font-style="italic" fill="#c8102e"><tspan textLength="23" lengthAdjust="spacingAndGlyphs">Ppm1d</tspan><tspan font-size="5.6" dy="-3.4" textLength="23" lengthAdjust="spacingAndGlyphs">T476*-fl/+</tspan></text>
<path d="M245.05,563.00 L248.25,563.00 L248.25,628.80 L245.05,628.80" fill="none" stroke="#333" stroke-width="1"/>
<text x="250.25" y="600.80" font-size="10.5" text-anchor="start" fill="#222" stroke="#222" stroke-width="0.0" font-weight="bold" font-style="normal" textLength="6.2" lengthAdjust="spacingAndGlyphs" >**</text>
<polyline points="47.90,606.01 74.98,593.70 102.07,579.15 129.15,583.53 156.24,584.24 183.32,583.77 210.40,571.34 237.49,563.89" fill="none" stroke="#8c8cb8" stroke-width="1.2"/>
<polyline points="47.90,597.49 74.98,604.94 102.07,614.64 129.15,610.86 156.24,609.56 183.32,611.57 210.40,621.98 237.49,628.96" fill="none" stroke="#b81034" stroke-width="1.5"/>
<rect x="45.70" y="603.81" width="4.4" height="4.4" fill="#9898cc" stroke="#7676b0" stroke-width="0.6"/>
<rect x="72.78" y="591.50" width="4.4" height="4.4" fill="#9898cc" stroke="#7676b0" stroke-width="0.6"/>
<rect x="99.87" y="576.95" width="4.4" height="4.4" fill="#9898cc" stroke="#7676b0" stroke-width="0.6"/>
<rect x="126.95" y="581.33" width="4.4" height="4.4" fill="#9898cc" stroke="#7676b0" stroke-width="0.6"/>
<rect x="154.04" y="582.04" width="4.4" height="4.4" fill="#9898cc" stroke="#7676b0" stroke-width="0.6"/>
<rect x="181.12" y="581.57" width="4.4" height="4.4" fill="#9898cc" stroke="#7676b0" stroke-width="0.6"/>
<rect x="208.20" y="569.14" width="4.4" height="4.4" fill="#9898cc" stroke="#7676b0" stroke-width="0.6"/>
<rect x="235.29" y="561.69" width="4.4" height="4.4" fill="#9898cc" stroke="#7676b0" stroke-width="0.6"/>
<line x1="74.98" y1="590.15" x2="74.98" y2="597.25" stroke="#2a2a2a" stroke-width="1.0" />
<line x1="72.98" y1="590.15" x2="76.98" y2="590.15" stroke="#2a2a2a" stroke-width="1.0" />
<line x1="72.98" y1="597.25" x2="76.98" y2="597.25" stroke="#2a2a2a" stroke-width="1.0" />
<line x1="102.07" y1="577.14" x2="102.07" y2="581.16" stroke="#2a2a2a" stroke-width="1.0" />
<line x1="100.07" y1="577.14" x2="104.07" y2="577.14" stroke="#2a2a2a" stroke-width="1.0" />
<line x1="100.07" y1="581.16" x2="104.07" y2="581.16" stroke="#2a2a2a" stroke-width="1.0" />
<line x1="129.15" y1="578.68" x2="129.15" y2="588.38" stroke="#2a2a2a" stroke-width="1.0" />
<line x1="127.15" y1="578.68" x2="131.15" y2="578.68" stroke="#2a2a2a" stroke-width="1.0" />
<line x1="127.15" y1="588.38" x2="131.15" y2="588.38" stroke="#2a2a2a" stroke-width="1.0" />
<line x1="156.24" y1="577.50" x2="156.24" y2="590.98" stroke="#2a2a2a" stroke-width="1.0" />
<line x1="154.24" y1="577.50" x2="158.24" y2="577.50" stroke="#2a2a2a" stroke-width="1.0" />
<line x1="154.24" y1="590.98" x2="158.24" y2="590.98" stroke="#2a2a2a" stroke-width="1.0" />
<line x1="183.32" y1="577.14" x2="183.32" y2="590.39" stroke="#2a2a2a" stroke-width="1.0" />
<line x1="181.32" y1="577.14" x2="185.32" y2="577.14" stroke="#2a2a2a" stroke-width="1.0" />
<line x1="181.32" y1="590.39" x2="185.32" y2="590.39" stroke="#2a2a2a" stroke-width="1.0" />
<line x1="210.40" y1="564.72" x2="210.40" y2="577.97" stroke="#2a2a2a" stroke-width="1.0" />
<line x1="208.40" y1="564.72" x2="212.40" y2="564.72" stroke="#2a2a2a" stroke-width="1.0" />
<line x1="208.40" y1="577.97" x2="212.40" y2="577.97" stroke="#2a2a2a" stroke-width="1.0" />
<line x1="237.49" y1="555.14" x2="237.49" y2="572.65" stroke="#2a2a2a" stroke-width="1.0" />
<line x1="235.49" y1="555.14" x2="239.49" y2="555.14" stroke="#2a2a2a" stroke-width="1.0" />
<line x1="235.49" y1="572.65" x2="239.49" y2="572.65" stroke="#2a2a2a" stroke-width="1.0" />
<line x1="74.98" y1="601.04" x2="74.98" y2="608.85" stroke="#2a2a2a" stroke-width="1.0" />
<line x1="72.98" y1="601.04" x2="76.98" y2="601.04" stroke="#2a2a2a" stroke-width="1.0" />
<line x1="72.98" y1="608.85" x2="76.98" y2="608.85" stroke="#2a2a2a" stroke-width="1.0" />
<line x1="102.07" y1="611.45" x2="102.07" y2="617.84" stroke="#2a2a2a" stroke-width="1.0" />
<line x1="100.07" y1="611.45" x2="104.07" y2="611.45" stroke="#2a2a2a" stroke-width="1.0" />
<line x1="100.07" y1="617.84" x2="104.07" y2="617.84" stroke="#2a2a2a" stroke-width="1.0" />
<line x1="129.15" y1="606.01" x2="129.15" y2="615.71" stroke="#2a2a2a" stroke-width="1.0" />
<line x1="127.15" y1="606.01" x2="131.15" y2="606.01" stroke="#2a2a2a" stroke-width="1.0" />
<line x1="127.15" y1="615.71" x2="131.15" y2="615.71" stroke="#2a2a2a" stroke-width="1.0" />
<line x1="156.24" y1="602.69" x2="156.24" y2="616.42" stroke="#2a2a2a" stroke-width="1.0" />
<line x1="154.24" y1="602.69" x2="158.24" y2="602.69" stroke="#2a2a2a" stroke-width="1.0" />
<line x1="154.24" y1="616.42" x2="158.24" y2="616.42" stroke="#2a2a2a" stroke-width="1.0" />
<line x1="183.32" y1="605.53" x2="183.32" y2="617.60" stroke="#2a2a2a" stroke-width="1.0" />
<line x1="181.32" y1="605.53" x2="185.32" y2="605.53" stroke="#2a2a2a" stroke-width="1.0" />
<line x1="181.32" y1="617.60" x2="185.32" y2="617.60" stroke="#2a2a2a" stroke-width="1.0" />
<line x1="210.40" y1="615.71" x2="210.40" y2="628.25" stroke="#2a2a2a" stroke-width="1.0" />
<line x1="208.40" y1="615.71" x2="212.40" y2="615.71" stroke="#2a2a2a" stroke-width="1.0" />
<line x1="208.40" y1="628.25" x2="212.40" y2="628.25" stroke="#2a2a2a" stroke-width="1.0" />
<line x1="237.49" y1="621.03" x2="237.49" y2="636.88" stroke="#2a2a2a" stroke-width="1.0" />
<line x1="235.49" y1="621.03" x2="239.49" y2="621.03" stroke="#2a2a2a" stroke-width="1.0" />
<line x1="235.49" y1="636.88" x2="239.49" y2="636.88" stroke="#2a2a2a" stroke-width="1.0" />
<circle cx="47.90" cy="597.49" r="2.35" fill="#c8102e" stroke="#a00a25" stroke-width="0.4"/>
<circle cx="74.98" cy="604.94" r="2.35" fill="#c8102e" stroke="#a00a25" stroke-width="0.4"/>
<circle cx="102.07" cy="614.64" r="2.35" fill="#c8102e" stroke="#a00a25" stroke-width="0.4"/>
<circle cx="129.15" cy="610.86" r="2.35" fill="#c8102e" stroke="#a00a25" stroke-width="0.4"/>
<circle cx="156.24" cy="609.56" r="2.35" fill="#c8102e" stroke="#a00a25" stroke-width="0.4"/>
<circle cx="183.32" cy="611.57" r="2.35" fill="#c8102e" stroke="#a00a25" stroke-width="0.4"/>
<circle cx="210.40" cy="621.98" r="2.35" fill="#c8102e" stroke="#a00a25" stroke-width="0.4"/>
<circle cx="237.49" cy="628.96" r="2.35" fill="#c8102e" stroke="#a00a25" stroke-width="0.4"/>
<line x1="76.50" y1="629.90" x2="76.50" y2="640.80" stroke="#111" stroke-width="1" />
<path d="M74.50,631.50 L76.50,626.90 L78.50,631.50 Z" fill="#111"/>
<text x="76.50" y="649.30" font-size="8.5" text-anchor="middle" fill="#333" stroke="#333" stroke-width="0.22" font-weight="normal" font-style="normal" textLength="44.599999999999994" lengthAdjust="spacingAndGlyphs" >XRT (2.5 Gy)</text>
<line x1="184.25" y1="629.90" x2="184.25" y2="640.80" stroke="#111" stroke-width="1" />
<path d="M182.25,631.50 L184.25,626.90 L186.25,631.50 Z" fill="#111"/>
<text x="184.75" y="649.30" font-size="8.5" text-anchor="middle" fill="#333" stroke="#333" stroke-width="0.22" font-weight="normal" font-style="normal" textLength="45.5" lengthAdjust="spacingAndGlyphs" >XRT (2.5 Gy)</text>
<text x="280.70" y="135.60" font-size="10" text-anchor="start" fill="#111" stroke="#111" stroke-width="0.0" font-weight="bold" font-style="normal" textLength="6.9" lengthAdjust="spacingAndGlyphs" >C</text>
<rect x="326.40" y="207.86" width="9.0" height="54.54" fill="#c5082e"/>
<rect x="335.40" y="203.32" width="9.0" height="59.08" fill="#9289c6"/>
<line x1="330.90" y1="202.24" x2="330.90" y2="213.48" stroke="#222" stroke-width="1.0" />
<line x1="328.90" y1="202.24" x2="332.90" y2="202.24" stroke="#222" stroke-width="1.0" />
<line x1="328.90" y1="213.48" x2="332.90" y2="213.48" stroke="#222" stroke-width="1.0" />
<line x1="339.90" y1="197.10" x2="339.90" y2="209.54" stroke="#222" stroke-width="1.0" />
<line x1="337.90" y1="197.10" x2="341.90" y2="197.10" stroke="#222" stroke-width="1.0" />
<line x1="337.90" y1="209.54" x2="341.90" y2="209.54" stroke="#222" stroke-width="1.0" />
<line x1="335.40" y1="262.40" x2="335.40" y2="265.40" stroke="#222" stroke-width="1" />
<text x="336.00" y="271.50" font-size="7.4" text-anchor="end" fill="#333" stroke="#333" stroke-width="0.22" font-weight="normal" font-style="normal" textLength="10.7464" lengthAdjust="spacingAndGlyphs" transform="rotate(-45 336.00 269.00)">PB</text>
<rect x="353.80" y="199.85" width="9.0" height="62.55" fill="#c5082e"/>
<rect x="362.80" y="210.85" width="9.0" height="51.55" fill="#9289c6"/>
<line x1="358.30" y1="193.39" x2="358.30" y2="206.31" stroke="#222" stroke-width="1.0" />
<line x1="356.30" y1="193.39" x2="360.30" y2="193.39" stroke="#222" stroke-width="1.0" />
<line x1="356.30" y1="206.31" x2="360.30" y2="206.31" stroke="#222" stroke-width="1.0" />
<line x1="367.30" y1="203.68" x2="367.30" y2="218.03" stroke="#222" stroke-width="1.0" />
<line x1="365.30" y1="203.68" x2="369.30" y2="203.68" stroke="#222" stroke-width="1.0" />
<line x1="365.30" y1="218.03" x2="369.30" y2="218.03" stroke="#222" stroke-width="1.0" />
<line x1="362.80" y1="262.40" x2="362.80" y2="265.40" stroke="#222" stroke-width="1" />
<text x="363.40" y="271.50" font-size="7.4" text-anchor="end" fill="#333" stroke="#333" stroke-width="0.22" font-weight="normal" font-style="normal" textLength="28.279999999999998" lengthAdjust="spacingAndGlyphs" transform="rotate(-45 363.40 269.00)">Lin Low</text>
<rect x="381.20" y="192.55" width="9.0" height="69.85" fill="#c5082e"/>
<rect x="390.20" y="218.15" width="9.0" height="44.25" fill="#9289c6"/>
<line x1="385.70" y1="184.90" x2="385.70" y2="200.21" stroke="#222" stroke-width="1.0" />
<line x1="383.70" y1="184.90" x2="387.70" y2="184.90" stroke="#222" stroke-width="1.0" />
<line x1="383.70" y1="200.21" x2="387.70" y2="200.21" stroke="#222" stroke-width="1.0" />
<line x1="394.70" y1="209.78" x2="394.70" y2="226.52" stroke="#222" stroke-width="1.0" />
<line x1="392.70" y1="209.78" x2="396.70" y2="209.78" stroke="#222" stroke-width="1.0" />
<line x1="392.70" y1="226.52" x2="396.70" y2="226.52" stroke="#222" stroke-width="1.0" />
<line x1="390.20" y1="262.40" x2="390.20" y2="265.40" stroke="#222" stroke-width="1" />
<text x="390.80" y="271.50" font-size="7.4" text-anchor="end" fill="#333" stroke="#333" stroke-width="0.22" font-weight="normal" font-style="normal" textLength="15.2712" lengthAdjust="spacingAndGlyphs" transform="rotate(-45 390.80 269.00)">LSK</text>
<rect x="408.60" y="190.52" width="9.0" height="71.88" fill="#c5082e"/>
<rect x="417.60" y="220.06" width="9.0" height="42.34" fill="#9289c6"/>
<line x1="413.10" y1="183.11" x2="413.10" y2="197.94" stroke="#222" stroke-width="1.0" />
<line x1="411.10" y1="183.11" x2="415.10" y2="183.11" stroke="#222" stroke-width="1.0" />
<line x1="411.10" y1="197.94" x2="415.10" y2="197.94" stroke="#222" stroke-width="1.0" />
<line x1="422.10" y1="212.41" x2="422.10" y2="227.72" stroke="#222" stroke-width="1.0" />
<line x1="420.10" y1="212.41" x2="424.10" y2="212.41" stroke="#222" stroke-width="1.0" />
<line x1="420.10" y1="227.72" x2="424.10" y2="227.72" stroke="#222" stroke-width="1.0" />
<line x1="417.60" y1="262.40" x2="417.60" y2="265.40" stroke="#222" stroke-width="1" />
<text x="418.20" y="271.50" font-size="7.4" text-anchor="end" fill="#333" stroke="#333" stroke-width="0.22" font-weight="normal" font-style="normal" textLength="16.4024" lengthAdjust="spacingAndGlyphs" transform="rotate(-45 418.20 269.00)">HSC</text>
<rect x="436.00" y="188.61" width="9.0" height="73.79" fill="#c5082e"/>
<rect x="445.00" y="223.89" width="9.0" height="38.51" fill="#9289c6"/>
<line x1="440.50" y1="181.31" x2="440.50" y2="195.90" stroke="#222" stroke-width="1.0" />
<line x1="438.50" y1="181.31" x2="442.50" y2="181.31" stroke="#222" stroke-width="1.0" />
<line x1="438.50" y1="195.90" x2="442.50" y2="195.90" stroke="#222" stroke-width="1.0" />
<line x1="449.50" y1="216.23" x2="449.50" y2="231.54" stroke="#222" stroke-width="1.0" />
<line x1="447.50" y1="216.23" x2="451.50" y2="216.23" stroke="#222" stroke-width="1.0" />
<line x1="447.50" y1="231.54" x2="451.50" y2="231.54" stroke="#222" stroke-width="1.0" />
<line x1="445.00" y1="262.40" x2="445.00" y2="265.40" stroke="#222" stroke-width="1" />
<text x="445.60" y="271.50" font-size="7.4" text-anchor="end" fill="#333" stroke="#333" stroke-width="0.22" font-weight="normal" font-style="normal" textLength="17.250799999999998" lengthAdjust="spacingAndGlyphs" transform="rotate(-45 445.60 269.00)">MPP</text>
<rect x="463.40" y="205.47" width="9.0" height="56.93" fill="#c5082e"/>
<rect x="472.40" y="208.10" width="9.0" height="54.30" fill="#9289c6"/>
<line x1="467.90" y1="197.82" x2="467.90" y2="213.12" stroke="#222" stroke-width="1.0" />
<line x1="465.90" y1="197.82" x2="469.90" y2="197.82" stroke="#222" stroke-width="1.0" />
<line x1="465.90" y1="213.12" x2="469.90" y2="213.12" stroke="#222" stroke-width="1.0" />
<line x1="476.90" y1="200.69" x2="476.90" y2="215.52" stroke="#222" stroke-width="1.0" />
<line x1="474.90" y1="200.69" x2="478.90" y2="200.69" stroke="#222" stroke-width="1.0" />
<line x1="474.90" y1="215.52" x2="478.90" y2="215.52" stroke="#222" stroke-width="1.0" />
<line x1="472.40" y1="262.40" x2="472.40" y2="265.40" stroke="#222" stroke-width="1" />
<text x="473.00" y="271.50" font-size="7.4" text-anchor="end" fill="#333" stroke="#333" stroke-width="0.22" font-weight="normal" font-style="normal" textLength="17.816399999999998" lengthAdjust="spacingAndGlyphs" transform="rotate(-45 473.00 269.00)">CMP</text>
<rect x="490.80" y="198.06" width="9.0" height="64.34" fill="#c5082e"/>
<rect x="499.80" y="212.65" width="9.0" height="49.75" fill="#9289c6"/>
<line x1="495.30" y1="189.09" x2="495.30" y2="207.03" stroke="#222" stroke-width="1.0" />
<line x1="493.30" y1="189.09" x2="497.30" y2="189.09" stroke="#222" stroke-width="1.0" />
<line x1="493.30" y1="207.03" x2="497.30" y2="207.03" stroke="#222" stroke-width="1.0" />
<line x1="504.30" y1="203.32" x2="504.30" y2="221.98" stroke="#222" stroke-width="1.0" />
<line x1="502.30" y1="203.32" x2="506.30" y2="203.32" stroke="#222" stroke-width="1.0" />
<line x1="502.30" y1="221.98" x2="506.30" y2="221.98" stroke="#222" stroke-width="1.0" />
<line x1="499.80" y1="262.40" x2="499.80" y2="265.40" stroke="#222" stroke-width="1" />
<text x="500.40" y="271.50" font-size="7.4" text-anchor="end" fill="#333" stroke="#333" stroke-width="0.22" font-weight="normal" font-style="normal" textLength="18.947599999999998" lengthAdjust="spacingAndGlyphs" transform="rotate(-45 500.40 269.00)">GMP</text>
<line x1="321.60" y1="140.10" x2="321.60" y2="263.00" stroke="#222" stroke-width="1.3" />
<line x1="321.00" y1="262.40" x2="513.20" y2="262.40" stroke="#222" stroke-width="1.3" />
<line x1="318.60" y1="262.40" x2="321.60" y2="262.40" stroke="#222" stroke-width="1" />
<text x="315.90" y="265.50" font-size="8.8" text-anchor="end" fill="#333" stroke="#333" stroke-width="0.22" font-weight="normal" font-style="normal" textLength="4.7" lengthAdjust="spacingAndGlyphs" >0</text>
<line x1="318.60" y1="238.48" x2="321.60" y2="238.48" stroke="#222" stroke-width="1" />
<text x="315.90" y="241.58" font-size="8.8" text-anchor="end" fill="#333" stroke="#333" stroke-width="0.22" font-weight="normal" font-style="normal" textLength="9.5" lengthAdjust="spacingAndGlyphs" >20</text>
<line x1="318.60" y1="214.56" x2="321.60" y2="214.56" stroke="#222" stroke-width="1" />
<text x="315.90" y="217.66" font-size="8.8" text-anchor="end" fill="#333" stroke="#333" stroke-width="0.22" font-weight="normal" font-style="normal" textLength="9.5" lengthAdjust="spacingAndGlyphs" >40</text>
<line x1="318.60" y1="190.64" x2="321.60" y2="190.64" stroke="#222" stroke-width="1" />
<text x="315.90" y="193.74" font-size="8.8" text-anchor="end" fill="#333" stroke="#333" stroke-width="0.22" font-weight="normal" font-style="normal" textLength="9.5" lengthAdjust="spacingAndGlyphs" >60</text>
<line x1="318.60" y1="166.72" x2="321.60" y2="166.72" stroke="#222" stroke-width="1" />
<text x="315.90" y="169.82" font-size="8.8" text-anchor="end" fill="#333" stroke="#333" stroke-width="0.22" font-weight="normal" font-style="normal" textLength="9.5" lengthAdjust="spacingAndGlyphs" >80</text>
<line x1="318.60" y1="142.80" x2="321.60" y2="142.80" stroke="#222" stroke-width="1" />
<text x="315.90" y="145.90" font-size="8.8" text-anchor="end" fill="#333" stroke="#333" stroke-width="0.22" font-weight="normal" font-style="normal" textLength="13.4" lengthAdjust="spacingAndGlyphs" >100</text>
<text x="417.60" y="304.40" font-size="9.4" text-anchor="middle" fill="#333" stroke="#333" stroke-width="0.22" font-weight="normal" font-style="normal" textLength="50.6" lengthAdjust="spacingAndGlyphs" >BM population</text>
<text x="295.20" y="201.40" font-size="7.8" text-anchor="middle" fill="#333" stroke="#333" stroke-width="0.22" font-weight="normal" font-style="normal" textLength="53.6" lengthAdjust="spacingAndGlyphs" transform="rotate(-90 295.2 201.40)">% of population</text>
<text x="328.7" y="150.0" font-size="8.3" font-style="italic" fill="#9696cc"><tspan textLength="17.6" lengthAdjust="spacingAndGlyphs">Trp53</tspan><tspan font-size="5.6" dy="-3.5" textLength="21.5" lengthAdjust="spacingAndGlyphs">R172H/+</tspan></text>
<text x="328.7" y="160.7" font-size="8.3" font-style="italic" fill="#c8102e"><tspan textLength="23" lengthAdjust="spacingAndGlyphs">Ppm1d</tspan><tspan font-size="5.6" dy="-3.4" textLength="23" lengthAdjust="spacingAndGlyphs">T476*-fl/+</tspan></text>
<text x="281.20" y="331.30" font-size="10" text-anchor="start" fill="#111" stroke="#111" stroke-width="0.0" font-weight="bold" font-style="normal" textLength="6.2" lengthAdjust="spacingAndGlyphs" >E</text>
<rect x="326.40" y="416.77" width="9.0" height="41.23" fill="#c5082e"/>
<rect x="335.40" y="387.26" width="9.0" height="70.74" fill="#9289c6"/>
<line x1="330.90" y1="409.00" x2="330.90" y2="424.54" stroke="#222" stroke-width="1.0" />
<line x1="328.90" y1="409.00" x2="332.90" y2="409.00" stroke="#222" stroke-width="1.0" />
<line x1="328.90" y1="424.54" x2="332.90" y2="424.54" stroke="#222" stroke-width="1.0" />
<line x1="339.90" y1="380.09" x2="339.90" y2="394.43" stroke="#222" stroke-width="1.0" />
<line x1="337.90" y1="380.09" x2="341.90" y2="380.09" stroke="#222" stroke-width="1.0" />
<line x1="337.90" y1="394.43" x2="341.90" y2="394.43" stroke="#222" stroke-width="1.0" />
<line x1="335.40" y1="458.00" x2="335.40" y2="461.00" stroke="#222" stroke-width="1" />
<text x="336.00" y="467.10" font-size="7.4" text-anchor="end" fill="#333" stroke="#333" stroke-width="0.22" font-weight="normal" font-style="normal" textLength="10.7464" lengthAdjust="spacingAndGlyphs" transform="rotate(-45 336.00 464.60)">PB</text>
<rect x="353.80" y="411.39" width="9.0" height="46.61" fill="#c5082e"/>
<rect x="362.80" y="390.48" width="9.0" height="67.52" fill="#9289c6"/>
<line x1="358.30" y1="400.64" x2="358.30" y2="422.15" stroke="#222" stroke-width="1.0" />
<line x1="356.30" y1="400.64" x2="360.30" y2="400.64" stroke="#222" stroke-width="1.0" />
<line x1="356.30" y1="422.15" x2="360.30" y2="422.15" stroke="#222" stroke-width="1.0" />
<line x1="367.30" y1="380.92" x2="367.30" y2="400.04" stroke="#222" stroke-width="1.0" />
<line x1="365.30" y1="380.92" x2="369.30" y2="380.92" stroke="#222" stroke-width="1.0" />
<line x1="365.30" y1="400.04" x2="369.30" y2="400.04" stroke="#222" stroke-width="1.0" />
<line x1="362.80" y1="458.00" x2="362.80" y2="461.00" stroke="#222" stroke-width="1" />
<text x="363.40" y="467.10" font-size="7.4" text-anchor="end" fill="#333" stroke="#333" stroke-width="0.22" font-weight="normal" font-style="normal" textLength="28.279999999999998" lengthAdjust="spacingAndGlyphs" transform="rotate(-45 363.40 464.60)">Lin Low</text>
<rect x="381.20" y="410.20" width="9.0" height="47.80" fill="#c5082e"/>
<rect x="390.20" y="396.58" width="9.0" height="61.42" fill="#9289c6"/>
<line x1="385.70" y1="400.16" x2="385.70" y2="420.24" stroke="#222" stroke-width="1.0" />
<line x1="383.70" y1="400.16" x2="387.70" y2="400.16" stroke="#222" stroke-width="1.0" />
<line x1="383.70" y1="420.24" x2="387.70" y2="420.24" stroke="#222" stroke-width="1.0" />
<line x1="394.70" y1="388.09" x2="394.70" y2="405.06" stroke="#222" stroke-width="1.0" />
<line x1="392.70" y1="388.09" x2="396.70" y2="388.09" stroke="#222" stroke-width="1.0" />
<line x1="392.70" y1="405.06" x2="396.70" y2="405.06" stroke="#222" stroke-width="1.0" />
<line x1="390.20" y1="458.00" x2="390.20" y2="461.00" stroke="#222" stroke-width="1" />
<text x="390.80" y="467.10" font-size="7.4" text-anchor="end" fill="#333" stroke="#333" stroke-width="0.22" font-weight="normal" font-style="normal" textLength="15.2712" lengthAdjust="spacingAndGlyphs" transform="rotate(-45 390.80 464.60)">LSK</text>
<rect x="408.60" y="416.53" width="9.0" height="41.47" fill="#c5082e"/>
<rect x="417.60" y="400.28" width="9.0" height="57.72" fill="#9289c6"/>
<line x1="413.10" y1="408.17" x2="413.10" y2="424.90" stroke="#222" stroke-width="1.0" />
<line x1="411.10" y1="408.17" x2="415.10" y2="408.17" stroke="#222" stroke-width="1.0" />
<line x1="411.10" y1="424.90" x2="415.10" y2="424.90" stroke="#222" stroke-width="1.0" />
<line x1="422.10" y1="391.80" x2="422.10" y2="408.77" stroke="#222" stroke-width="1.0" />
<line x1="420.10" y1="391.80" x2="424.10" y2="391.80" stroke="#222" stroke-width="1.0" />
<line x1="420.10" y1="408.77" x2="424.10" y2="408.77" stroke="#222" stroke-width="1.0" />
<line x1="417.60" y1="458.00" x2="417.60" y2="461.00" stroke="#222" stroke-width="1" />
<text x="418.20" y="467.10" font-size="7.4" text-anchor="end" fill="#333" stroke="#333" stroke-width="0.22" font-weight="normal" font-style="normal" textLength="16.4024" lengthAdjust="spacingAndGlyphs" transform="rotate(-45 418.20 464.60)">HSC</text>
<rect x="436.00" y="410.80" width="9.0" height="47.20" fill="#c5082e"/>
<rect x="445.00" y="396.58" width="9.0" height="61.42" fill="#9289c6"/>
<line x1="440.50" y1="399.44" x2="440.50" y2="422.15" stroke="#222" stroke-width="1.0" />
<line x1="438.50" y1="399.44" x2="442.50" y2="399.44" stroke="#222" stroke-width="1.0" />
<line x1="438.50" y1="422.15" x2="442.50" y2="422.15" stroke="#222" stroke-width="1.0" />
<line x1="449.50" y1="386.78" x2="449.50" y2="406.38" stroke="#222" stroke-width="1.0" />
<line x1="447.50" y1="386.78" x2="451.50" y2="386.78" stroke="#222" stroke-width="1.0" />
<line x1="447.50" y1="406.38" x2="451.50" y2="406.38" stroke="#222" stroke-width="1.0" />
<line x1="445.00" y1="458.00" x2="445.00" y2="461.00" stroke="#222" stroke-width="1" />
<text x="445.60" y="467.10" font-size="7.4" text-anchor="end" fill="#333" stroke="#333" stroke-width="0.22" font-weight="normal" font-style="normal" textLength="17.250799999999998" lengthAdjust="spacingAndGlyphs" transform="rotate(-45 445.60 464.60)">MPP</text>
<rect x="463.40" y="413.55" width="9.0" height="44.45" fill="#c5082e"/>
<rect x="472.40" y="392.87" width="9.0" height="65.13" fill="#9289c6"/>
<line x1="467.90" y1="403.15" x2="467.90" y2="423.94" stroke="#222" stroke-width="1.0" />
<line x1="465.90" y1="403.15" x2="469.90" y2="403.15" stroke="#222" stroke-width="1.0" />
<line x1="465.90" y1="423.94" x2="469.90" y2="423.94" stroke="#222" stroke-width="1.0" />
<line x1="476.90" y1="384.15" x2="476.90" y2="401.60" stroke="#222" stroke-width="1.0" />
<line x1="474.90" y1="384.15" x2="478.90" y2="384.15" stroke="#222" stroke-width="1.0" />
<line x1="474.90" y1="401.60" x2="478.90" y2="401.60" stroke="#222" stroke-width="1.0" />
<line x1="472.40" y1="458.00" x2="472.40" y2="461.00" stroke="#222" stroke-width="1" />
<text x="473.00" y="467.10" font-size="7.4" text-anchor="end" fill="#333" stroke="#333" stroke-width="0.22" font-weight="normal" font-style="normal" textLength="17.816399999999998" lengthAdjust="spacingAndGlyphs" transform="rotate(-45 473.00 464.60)">CMP</text>
<rect x="490.80" y="409.24" width="9.0" height="48.76" fill="#c5082e"/>
<rect x="499.80" y="394.55" width="9.0" height="63.45" fill="#9289c6"/>
<line x1="495.30" y1="397.17" x2="495.30" y2="421.31" stroke="#222" stroke-width="1.0" />
<line x1="493.30" y1="397.17" x2="497.30" y2="397.17" stroke="#222" stroke-width="1.0" />
<line x1="493.30" y1="421.31" x2="497.30" y2="421.31" stroke="#222" stroke-width="1.0" />
<line x1="504.30" y1="384.75" x2="504.30" y2="404.34" stroke="#222" stroke-width="1.0" />
<line x1="502.30" y1="384.75" x2="506.30" y2="384.75" stroke="#222" stroke-width="1.0" />
<line x1="502.30" y1="404.34" x2="506.30" y2="404.34" stroke="#222" stroke-width="1.0" />
<line x1="499.80" y1="458.00" x2="499.80" y2="461.00" stroke="#222" stroke-width="1" />
<text x="500.40" y="467.10" font-size="7.4" text-anchor="end" fill="#333" stroke="#333" stroke-width="0.22" font-weight="normal" font-style="normal" textLength="18.947599999999998" lengthAdjust="spacingAndGlyphs" transform="rotate(-45 500.40 464.60)">GMP</text>
<line x1="321.60" y1="335.80" x2="321.60" y2="458.60" stroke="#222" stroke-width="1.3" />
<line x1="321.00" y1="458.00" x2="513.20" y2="458.00" stroke="#222" stroke-width="1.3" />
<line x1="318.60" y1="458.00" x2="321.60" y2="458.00" stroke="#222" stroke-width="1" />
<text x="315.90" y="461.10" font-size="8.8" text-anchor="end" fill="#333" stroke="#333" stroke-width="0.22" font-weight="normal" font-style="normal" textLength="4.7" lengthAdjust="spacingAndGlyphs" >0</text>
<line x1="318.60" y1="434.10" x2="321.60" y2="434.10" stroke="#222" stroke-width="1" />
<text x="315.90" y="437.20" font-size="8.8" text-anchor="end" fill="#333" stroke="#333" stroke-width="0.22" font-weight="normal" font-style="normal" textLength="9.5" lengthAdjust="spacingAndGlyphs" >20</text>
<line x1="318.60" y1="410.20" x2="321.60" y2="410.20" stroke="#222" stroke-width="1" />
<text x="315.90" y="413.30" font-size="8.8" text-anchor="end" fill="#333" stroke="#333" stroke-width="0.22" font-weight="normal" font-style="normal" textLength="9.5" lengthAdjust="spacingAndGlyphs" >40</text>
<line x1="318.60" y1="386.30" x2="321.60" y2="386.30" stroke="#222" stroke-width="1" />
<text x="315.90" y="389.40" font-size="8.8" text-anchor="end" fill="#333" stroke="#333" stroke-width="0.22" font-weight="normal" font-style="normal" textLength="9.5" lengthAdjust="spacingAndGlyphs" >60</text>
<line x1="318.60" y1="362.40" x2="321.60" y2="362.40" stroke="#222" stroke-width="1" />
<text x="315.90" y="365.50" font-size="8.8" text-anchor="end" fill="#333" stroke="#333" stroke-width="0.22" font-weight="normal" font-style="normal" textLength="9.5" lengthAdjust="spacingAndGlyphs" >80</text>
<line x1="318.60" y1="338.50" x2="321.60" y2="338.50" stroke="#222" stroke-width="1" />
<text x="315.90" y="341.60" font-size="8.8" text-anchor="end" fill="#333" stroke="#333" stroke-width="0.22" font-weight="normal" font-style="normal" textLength="13.4" lengthAdjust="spacingAndGlyphs" >100</text>
<text x="417.60" y="500.00" font-size="9.4" text-anchor="middle" fill="#333" stroke="#333" stroke-width="0.22" font-weight="normal" font-style="normal" textLength="50.6" lengthAdjust="spacingAndGlyphs" >BM population</text>
<text x="295.20" y="397.10" font-size="7.8" text-anchor="middle" fill="#333" stroke="#333" stroke-width="0.22" font-weight="normal" font-style="normal" textLength="53.6" lengthAdjust="spacingAndGlyphs" transform="rotate(-90 295.2 397.10)">% of population</text>
<text x="328.7" y="345.3" font-size="8.3" font-style="italic" fill="#9696cc"><tspan textLength="17.6" lengthAdjust="spacingAndGlyphs">Trp53</tspan><tspan font-size="5.6" dy="-3.5" textLength="21.5" lengthAdjust="spacingAndGlyphs">R172H/+</tspan></text>
<text x="328.7" y="355.9" font-size="8.3" font-style="italic" fill="#c8102e"><tspan textLength="23" lengthAdjust="spacingAndGlyphs">Ppm1d</tspan><tspan font-size="5.6" dy="-3.4" textLength="23" lengthAdjust="spacingAndGlyphs">T476*-fl/+</tspan></text>
<text x="280.30" y="527.30" font-size="10" text-anchor="start" fill="#111" stroke="#111" stroke-width="0.0" font-weight="bold" font-style="normal" textLength="7.7" lengthAdjust="spacingAndGlyphs" >G</text>
<rect x="326.40" y="629.82" width="9.0" height="24.28" fill="#c5082e"/>
<rect x="335.40" y="564.28" width="9.0" height="89.82" fill="#9289c6"/>
<line x1="330.90" y1="626.35" x2="330.90" y2="633.29" stroke="#222" stroke-width="1.0" />
<line x1="328.90" y1="626.35" x2="332.90" y2="626.35" stroke="#222" stroke-width="1.0" />
<line x1="328.90" y1="633.29" x2="332.90" y2="633.29" stroke="#222" stroke-width="1.0" />
<line x1="339.90" y1="560.69" x2="339.90" y2="567.87" stroke="#222" stroke-width="1.0" />
<line x1="337.90" y1="560.69" x2="341.90" y2="560.69" stroke="#222" stroke-width="1.0" />
<line x1="337.90" y1="567.87" x2="341.90" y2="567.87" stroke="#222" stroke-width="1.0" />
<line x1="335.40" y1="654.10" x2="335.40" y2="657.10" stroke="#222" stroke-width="1" />
<text x="336.00" y="663.20" font-size="7.4" text-anchor="end" fill="#333" stroke="#333" stroke-width="0.22" font-weight="normal" font-style="normal" textLength="10.7464" lengthAdjust="spacingAndGlyphs" transform="rotate(-45 336.00 660.70)">PB</text>
<rect x="353.80" y="628.86" width="9.0" height="25.24" fill="#c5082e"/>
<rect x="362.80" y="562.96" width="9.0" height="91.14" fill="#9289c6"/>
<line x1="358.30" y1="618.94" x2="358.30" y2="638.79" stroke="#222" stroke-width="1.0" />
<line x1="356.30" y1="618.94" x2="360.30" y2="618.94" stroke="#222" stroke-width="1.0" />
<line x1="356.30" y1="638.79" x2="360.30" y2="638.79" stroke="#222" stroke-width="1.0" />
<line x1="367.30" y1="553.04" x2="367.30" y2="572.89" stroke="#222" stroke-width="1.0" />
<line x1="365.30" y1="553.04" x2="369.30" y2="553.04" stroke="#222" stroke-width="1.0" />
<line x1="365.30" y1="572.89" x2="369.30" y2="572.89" stroke="#222" stroke-width="1.0" />
<line x1="362.80" y1="654.10" x2="362.80" y2="657.10" stroke="#222" stroke-width="1" />
<text x="363.40" y="663.20" font-size="7.4" text-anchor="end" fill="#333" stroke="#333" stroke-width="0.22" font-weight="normal" font-style="normal" textLength="28.279999999999998" lengthAdjust="spacingAndGlyphs" transform="rotate(-45 363.40 660.70)">Lin Low</text>
<rect x="381.20" y="635.80" width="9.0" height="18.30" fill="#c5082e"/>
<rect x="390.20" y="564.52" width="9.0" height="89.58" fill="#9289c6"/>
<line x1="385.70" y1="628.27" x2="385.70" y2="643.34" stroke="#222" stroke-width="1.0" />
<line x1="383.70" y1="628.27" x2="387.70" y2="628.27" stroke="#222" stroke-width="1.0" />
<line x1="383.70" y1="643.34" x2="387.70" y2="643.34" stroke="#222" stroke-width="1.0" />
<line x1="394.70" y1="556.63" x2="394.70" y2="572.41" stroke="#222" stroke-width="1.0" />
<line x1="392.70" y1="556.63" x2="396.70" y2="556.63" stroke="#222" stroke-width="1.0" />
<line x1="392.70" y1="572.41" x2="396.70" y2="572.41" stroke="#222" stroke-width="1.0" />
<line x1="390.20" y1="654.10" x2="390.20" y2="657.10" stroke="#222" stroke-width="1" />
<text x="390.80" y="663.20" font-size="7.4" text-anchor="end" fill="#333" stroke="#333" stroke-width="0.22" font-weight="normal" font-style="normal" textLength="15.2712" lengthAdjust="spacingAndGlyphs" transform="rotate(-45 390.80 660.70)">LSK</text>
<rect x="408.60" y="628.98" width="9.0" height="25.12" fill="#c5082e"/>
<rect x="417.60" y="576.84" width="9.0" height="77.26" fill="#9289c6"/>
<line x1="413.10" y1="610.45" x2="413.10" y2="647.52" stroke="#222" stroke-width="1.0" />
<line x1="411.10" y1="610.45" x2="415.10" y2="610.45" stroke="#222" stroke-width="1.0" />
<line x1="411.10" y1="647.52" x2="415.10" y2="647.52" stroke="#222" stroke-width="1.0" />
<line x1="422.10" y1="558.78" x2="422.10" y2="594.90" stroke="#222" stroke-width="1.0" />
<line x1="420.10" y1="558.78" x2="424.10" y2="558.78" stroke="#222" stroke-width="1.0" />
<line x1="420.10" y1="594.90" x2="424.10" y2="594.90" stroke="#222" stroke-width="1.0" />
<line x1="417.60" y1="654.10" x2="417.60" y2="657.10" stroke="#222" stroke-width="1" />
<text x="418.20" y="663.20" font-size="7.4" text-anchor="end" fill="#333" stroke="#333" stroke-width="0.22" font-weight="normal" font-style="normal" textLength="16.4024" lengthAdjust="spacingAndGlyphs" transform="rotate(-45 418.20 660.70)">HSC</text>
<rect x="436.00" y="646.33" width="9.0" height="7.77" fill="#c5082e"/>
<rect x="445.00" y="572.17" width="9.0" height="81.93" fill="#9289c6"/>
<line x1="440.50" y1="641.30" x2="440.50" y2="651.35" stroke="#222" stroke-width="1.0" />
<line x1="438.50" y1="641.30" x2="442.50" y2="641.30" stroke="#222" stroke-width="1.0" />
<line x1="438.50" y1="651.35" x2="442.50" y2="651.35" stroke="#222" stroke-width="1.0" />
<line x1="449.50" y1="552.56" x2="449.50" y2="591.79" stroke="#222" stroke-width="1.0" />
<line x1="447.50" y1="552.56" x2="451.50" y2="552.56" stroke="#222" stroke-width="1.0" />
<line x1="447.50" y1="591.79" x2="451.50" y2="591.79" stroke="#222" stroke-width="1.0" />
<line x1="445.00" y1="654.10" x2="445.00" y2="657.10" stroke="#222" stroke-width="1" />
<text x="445.60" y="663.20" font-size="7.4" text-anchor="end" fill="#333" stroke="#333" stroke-width="0.22" font-weight="normal" font-style="normal" textLength="17.250799999999998" lengthAdjust="spacingAndGlyphs" transform="rotate(-45 445.60 660.70)">MPP</text>
<rect x="463.40" y="641.66" width="9.0" height="12.44" fill="#c5082e"/>
<rect x="472.40" y="585.93" width="9.0" height="68.17" fill="#9289c6"/>
<line x1="467.90" y1="637.24" x2="467.90" y2="646.09" stroke="#222" stroke-width="1.0" />
<line x1="465.90" y1="637.24" x2="469.90" y2="637.24" stroke="#222" stroke-width="1.0" />
<line x1="465.90" y1="646.09" x2="469.90" y2="646.09" stroke="#222" stroke-width="1.0" />
<line x1="476.90" y1="569.18" x2="476.90" y2="602.67" stroke="#222" stroke-width="1.0" />
<line x1="474.90" y1="569.18" x2="478.90" y2="569.18" stroke="#222" stroke-width="1.0" />
<line x1="474.90" y1="602.67" x2="478.90" y2="602.67" stroke="#222" stroke-width="1.0" />
<line x1="472.40" y1="654.10" x2="472.40" y2="657.10" stroke="#222" stroke-width="1" />
<text x="473.00" y="663.20" font-size="7.4" text-anchor="end" fill="#333" stroke="#333" stroke-width="0.22" font-weight="normal" font-style="normal" textLength="17.816399999999998" lengthAdjust="spacingAndGlyphs" transform="rotate(-45 473.00 660.70)">CMP</text>
<rect x="490.80" y="639.39" width="9.0" height="14.71" fill="#c5082e"/>
<rect x="499.80" y="571.10" width="9.0" height="83.00" fill="#9289c6"/>
<line x1="495.30" y1="632.69" x2="495.30" y2="646.09" stroke="#222" stroke-width="1.0" />
<line x1="493.30" y1="632.69" x2="497.30" y2="632.69" stroke="#222" stroke-width="1.0" />
<line x1="493.30" y1="646.09" x2="497.30" y2="646.09" stroke="#222" stroke-width="1.0" />
<line x1="504.30" y1="563.20" x2="504.30" y2="578.99" stroke="#222" stroke-width="1.0" />
<line x1="502.30" y1="563.20" x2="506.30" y2="563.20" stroke="#222" stroke-width="1.0" />
<line x1="502.30" y1="578.99" x2="506.30" y2="578.99" stroke="#222" stroke-width="1.0" />
<line x1="499.80" y1="654.10" x2="499.80" y2="657.10" stroke="#222" stroke-width="1" />
<text x="500.40" y="663.20" font-size="7.4" text-anchor="end" fill="#333" stroke="#333" stroke-width="0.22" font-weight="normal" font-style="normal" textLength="18.947599999999998" lengthAdjust="spacingAndGlyphs" transform="rotate(-45 500.40 660.70)">GMP</text>
<line x1="321.60" y1="531.80" x2="321.60" y2="654.70" stroke="#222" stroke-width="1.3" />
<line x1="321.00" y1="654.10" x2="513.20" y2="654.10" stroke="#222" stroke-width="1.3" />
<line x1="318.60" y1="654.10" x2="321.60" y2="654.10" stroke="#222" stroke-width="1" />
<text x="315.90" y="657.20" font-size="8.8" text-anchor="end" fill="#333" stroke="#333" stroke-width="0.22" font-weight="normal" font-style="normal" textLength="4.7" lengthAdjust="spacingAndGlyphs" >0</text>
<line x1="318.60" y1="630.18" x2="321.60" y2="630.18" stroke="#222" stroke-width="1" />
<text x="315.90" y="633.28" font-size="8.8" text-anchor="end" fill="#333" stroke="#333" stroke-width="0.22" font-weight="normal" font-style="normal" textLength="9.5" lengthAdjust="spacingAndGlyphs" >20</text>
<line x1="318.60" y1="606.26" x2="321.60" y2="606.26" stroke="#222" stroke-width="1" />
<text x="315.90" y="609.36" font-size="8.8" text-anchor="end" fill="#333" stroke="#333" stroke-width="0.22" font-weight="normal" font-style="normal" textLength="9.5" lengthAdjust="spacingAndGlyphs" >40</text>
<line x1="318.60" y1="582.34" x2="321.60" y2="582.34" stroke="#222" stroke-width="1" />
<text x="315.90" y="585.44" font-size="8.8" text-anchor="end" fill="#333" stroke="#333" stroke-width="0.22" font-weight="normal" font-style="normal" textLength="9.5" lengthAdjust="spacingAndGlyphs" >60</text>
<line x1="318.60" y1="558.42" x2="321.60" y2="558.42" stroke="#222" stroke-width="1" />
<text x="315.90" y="561.52" font-size="8.8" text-anchor="end" fill="#333" stroke="#333" stroke-width="0.22" font-weight="normal" font-style="normal" textLength="9.5" lengthAdjust="spacingAndGlyphs" >80</text>
<line x1="318.60" y1="534.50" x2="321.60" y2="534.50" stroke="#222" stroke-width="1" />
<text x="315.90" y="537.60" font-size="8.8" text-anchor="end" fill="#333" stroke="#333" stroke-width="0.22" font-weight="normal" font-style="normal" textLength="13.4" lengthAdjust="spacingAndGlyphs" >100</text>
<text x="417.60" y="696.10" font-size="9.4" text-anchor="middle" fill="#333" stroke="#333" stroke-width="0.22" font-weight="normal" font-style="normal" textLength="50.6" lengthAdjust="spacingAndGlyphs" >BM population</text>
<text x="295.20" y="593.10" font-size="7.8" text-anchor="middle" fill="#333" stroke="#333" stroke-width="0.22" font-weight="normal" font-style="normal" textLength="53.6" lengthAdjust="spacingAndGlyphs" transform="rotate(-90 295.2 593.10)">% of population</text>
<text x="328.7" y="535.8" font-size="8.3" font-style="italic" fill="#9696cc"><tspan textLength="17.6" lengthAdjust="spacingAndGlyphs">Trp53</tspan><tspan font-size="5.6" dy="-3.5" textLength="21.5" lengthAdjust="spacingAndGlyphs">R172H/+</tspan></text>
<text x="328.7" y="546.8" font-size="8.3" font-style="italic" fill="#c8102e"><tspan textLength="23" lengthAdjust="spacingAndGlyphs">Ppm1d</tspan><tspan font-size="5.6" dy="-3.4" textLength="23" lengthAdjust="spacingAndGlyphs">T476*-fl/+</tspan></text>
<rect x="0.5" y="0.5" width="519" height="705" fill="none" stroke="#5a5a5a" stroke-width="1"/>
</svg>
</body></html>
